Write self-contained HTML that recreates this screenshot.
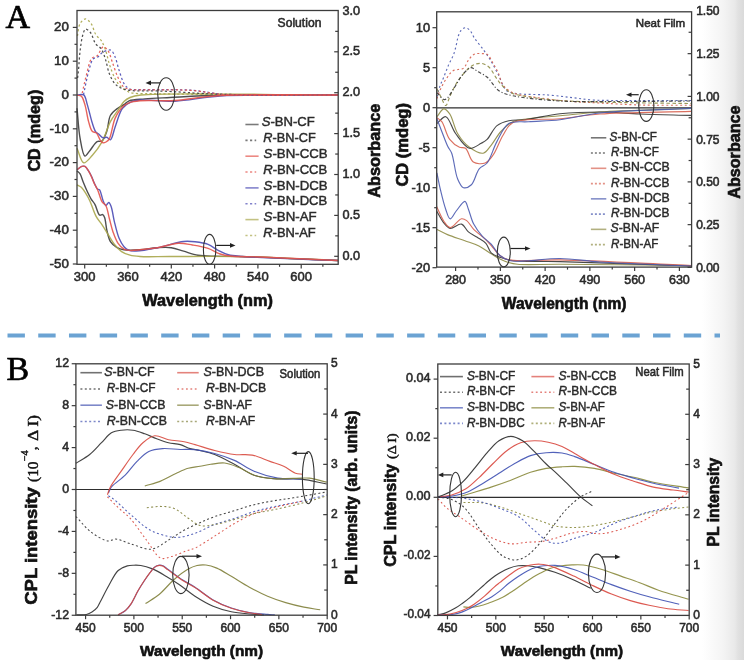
<!DOCTYPE html><html><head><meta charset="utf-8"><style>html,body{margin:0;padding:0;background:#fff;}body{width:744px;height:660px;overflow:hidden;position:relative;font-family:"Liberation Sans",sans-serif;}svg{position:absolute;left:0;top:0;filter:blur(0.3px);}</style></head><body>
<svg width="744" height="660" viewBox="0 0 744 660" font-family="Liberation Sans, sans-serif">
<defs><linearGradient id="edge" x1="0" y1="0" x2="1" y2="0"><stop offset="0" stop-color="#ffffff"/><stop offset="0.5" stop-color="#f4f4f4"/><stop offset="0.78" stop-color="#e9e9e9"/><stop offset="0.86" stop-color="#e1e1e1"/><stop offset="1" stop-color="#dadada"/></linearGradient></defs>
<rect x="0" y="0" width="744" height="660" fill="#fff"/>
<rect x="702" y="0" width="42" height="660" fill="url(#edge)"/>
<text x="5.5" y="28" font-size="34" font-family="Liberation Serif" fill="#000" stroke="#000" stroke-width="0.7">A</text>
<text x="6.5" y="380.3" font-size="34" font-family="Liberation Serif" fill="#000" stroke="#000" stroke-width="0.7">B</text>
<line x1="7.5" y1="335.6" x2="720" y2="335.6" stroke="#6ba3d3" stroke-width="4" stroke-dasharray="17.4 13.34"/>
<path d="M77 170.9 C78.03 171.9 79.2 172.53 80.1 173.9 C81.36 175.81 82.03 179.13 83.1 181.8 C84.22 184.59 85.4 187.49 86.7 190.3 C88.03 193.16 89.51 196.32 91 198.8 C92.26 200.88 93.64 202.08 94.9 204.3 C96.57 207.25 97.85 214.24 99.7 215.2 C100.64 215.69 101.9 214.26 102.7 214.6 C103.56 214.97 104.04 216.17 104.6 217.6 C105.69 220.41 105.94 226.8 107 231 C107.98 234.86 108.75 239.06 110.6 241.9 C112.17 244.3 114.42 246.08 116.7 247.4 C118.9 248.68 121.05 249.33 124 249.8 C128.26 250.48 134.56 250.13 140 249.8 C145.69 249.46 151.92 248.03 157.4 247.7 C162.28 247.41 166.85 247.08 171.3 247.7 C175.57 248.3 179.34 250 183.6 251.2 C188.21 252.5 192.95 254.35 198 255.2 C203.39 256.11 208.79 256.07 215 256.3 C222.53 256.57 228.93 256.23 240 256.5 C261.93 257.04 305.33 259.17 338 260.5" fill="none" stroke="#3c3c3c" stroke-width="1.4" stroke-linejoin="round" stroke-opacity="0.9"/>
<path d="M77 184.8 C78.43 185.63 79.95 186.08 81.3 187.3 C83.03 188.86 84.65 191.59 86.1 193.9 C87.56 196.22 88.64 198.28 90 201.2 C91.91 205.31 93.8 212.17 96.1 216.4 C97.93 219.77 100.13 221.95 102.1 224.9 C104.17 228 106.17 231.37 108.2 234.6 C110.23 237.83 111.99 241.41 114.3 244.3 C116.49 247.04 118.89 249.76 121.6 251.6 C124.15 253.33 127.02 254.38 130 255.2 C133.13 256.06 135.76 256.23 140 256.5 C147.31 256.97 157.91 256.49 170 256.5 C188.46 256.51 214.71 256.08 240 256.6 C269.93 257.22 305.33 259.2 338 260.5" fill="none" stroke="#a8a64a" stroke-width="1.4" stroke-linejoin="round" stroke-opacity="0.9"/>
<path d="M77 108.2 C78.03 118.3 78.48 129.82 80.1 138.5 C81.35 145.22 82.7 155.57 84.9 156.1 C86.29 156.43 88.04 152.76 89.8 150.7 C92.03 148.09 94.64 142.98 97.1 141.6 C98.69 140.71 100.5 141.98 101.9 141 C103.99 139.53 105.46 135.02 106.8 131.3 C108.44 126.76 108.17 119.53 110.4 115.5 C112.18 112.28 115.23 110.09 117.7 108.2 C119.77 106.62 122.05 105.88 124 104.6 C125.83 103.4 126.77 101.73 129.1 100.8 C132.77 99.33 138.94 99.42 144.8 98.9 C152.2 98.25 160.17 97.99 170 97.5 C183.84 96.81 199.8 95.77 220 95.3 C251.01 94.58 298.67 95.1 338 95" fill="none" stroke="#3c3c3c" stroke-width="1.4" stroke-linejoin="round" stroke-opacity="0.9"/>
<path d="M77 148.3 C79.23 153.13 80.84 162.18 83.7 162.8 C86.09 163.32 89.44 158.49 92.2 155.5 C95.54 151.88 99.04 147.31 101.9 142.2 C105.23 136.25 107.38 127.28 110.4 121.6 C112.72 117.23 115.34 114.08 117.7 110.6 C119.86 107.41 121.69 103.77 124 101.5 C125.86 99.67 127.59 98.54 130 97.5 C133 96.21 134.96 95.67 140.9 95 C165.86 92.17 272.3 95 338 95" fill="none" stroke="#a8a64a" stroke-width="1.4" stroke-linejoin="round" stroke-opacity="0.9"/>
<path d="M77.4 35.9 C78.3 31.8 78.34 26.54 80.1 23.6 C81.44 21.37 83.77 18.9 85.6 18.9 C87.43 18.9 89.54 21.47 91.1 23.6 C93.11 26.34 93.88 31.6 95.8 34.6 C97.39 37.09 99.74 38.34 101.3 40.7 C103 43.28 104.16 46.19 105.4 49.6 C106.96 53.9 107.89 59.77 109.5 64.6 C111.07 69.29 112.86 74.33 114.9 78.2 C116.57 81.38 118.12 84.12 120.4 86.4 C122.68 88.68 126.06 90.78 128.6 91.9 C130.51 92.74 131.5 92.87 134 93.2 C139.4 93.9 149.55 93.62 160 93.8 C175.88 94.08 196.65 94.31 220 94.5 C252.74 94.76 298.67 94.83 338 95" fill="none" stroke="#a8a64a" stroke-width="1.25" stroke-dasharray="2.2 2.4" stroke-linejoin="round" stroke-opacity="0.9"/>
<path d="M77.6 78 C77.9 75.33 78.18 73.24 78.5 70 C78.99 65 79.32 57 80.1 50.9 C80.82 45.24 81.63 38.53 82.9 34.6 C83.67 32.21 84.33 29.42 85.6 29.1 C86.84 28.78 88.95 30.77 90.4 32.5 C92.53 35.06 93.64 41.23 95.8 44.1 C97.43 46.27 99.79 46.77 101.3 48.9 C103.15 51.51 104.13 55.33 105.4 59.1 C106.91 63.58 107.71 69.75 109.5 74.1 C111 77.76 112.81 81.32 114.9 83.7 C116.55 85.58 118.13 86.72 120.4 87.8 C123.31 89.18 126.76 89.91 131.3 90.5 C138.55 91.45 148.69 90.6 160 91 C176.36 91.58 196.64 93.5 220 94.2 C252.74 95.18 298.67 94.73 338 95" fill="none" stroke="#3c3c3c" stroke-width="1.25" stroke-dasharray="2.2 2.4" stroke-linejoin="round" stroke-opacity="0.9"/>
<path d="M77 169.7 C78.63 168.6 80.4 166.86 81.9 166.4 C82.97 166.07 83.96 165.95 84.9 166.4 C86.21 167.03 87.41 169.27 88.5 170.9 C89.65 172.62 90.63 174.49 91.6 176.5 C92.67 178.72 93.54 181.49 94.6 183.7 C95.55 185.68 96.52 188.35 97.6 189.2 C98.21 189.68 98.9 189.14 99.5 189.7 C100.98 191.1 102.01 198.34 103.3 201.2 C104.12 203.03 104.84 205.37 105.8 205.5 C106.69 205.62 107.92 202.38 108.8 202.5 C109.74 202.63 110.48 204.8 111.2 206.7 C112.47 210.03 113.06 216.27 114.3 221.3 C115.65 226.77 117.15 233.72 119.1 238.3 C120.54 241.7 122.15 244.59 124 246.7 C125.46 248.36 126.91 249.67 128.8 250.4 C130.88 251.21 133.04 251.11 136.1 251 C141.35 250.81 149.96 249.15 157.4 247.7 C165.71 246.08 176.62 242.22 183.6 241.5 C188.14 241.03 191.09 241.36 195 241.8 C199.23 242.27 204.13 242.88 208.1 244.4 C211.82 245.83 214.78 248.65 218.2 250.4 C221.51 252.1 224.57 253.79 228.3 254.8 C232.53 255.95 235.59 255.95 242.4 256.5 C260.07 257.93 306.13 259.17 338 260.5" fill="none" stroke="#4a4ab4" stroke-width="1.4" stroke-linejoin="round" stroke-opacity="0.9"/>
<path d="M77 95 C79.23 94.97 82.03 93.76 83.7 94.9 C85.77 96.32 86.1 100.83 87.3 104.6 C88.93 109.69 90.55 117.81 92.2 122.8 C93.39 126.39 94.42 130.12 95.8 131.9 C96.58 132.9 97.35 132.95 98.3 133.7 C99.66 134.78 101.5 137.44 103.1 137.9 C104.33 138.25 105.63 137.03 106.8 137.3 C108.07 137.59 109.31 140.15 110.4 139.8 C112.38 139.17 113.48 131.2 115.3 126.4 C117.44 120.78 119.25 112.44 122.5 108.2 C124.9 105.06 128.05 103.16 131.1 101.8 C133.91 100.55 136.03 100.33 140 100 C147.8 99.35 162.62 101.7 175 101.2 C189.08 100.63 201.42 97.15 220 96 C250 94.15 298.67 95.33 338 95" fill="none" stroke="#4a4ab4" stroke-width="1.4" stroke-linejoin="round" stroke-opacity="0.9"/>
<path d="M83.5 94.6 C85.33 86.4 87.06 76.5 89 70 C90.32 65.58 91.06 61.35 93.1 59.1 C94.58 57.47 97 57.56 98.6 56.4 C100.15 55.28 100.85 53.31 102.6 52.3 C104.72 51.07 108.72 49.4 110.8 50.2 C112.74 50.95 113.69 53.82 114.9 56.4 C116.57 59.96 117.44 65.43 119 70 C120.62 74.76 122.19 81.09 124.5 84.4 C126.08 86.66 127.63 88.19 129.9 89.1 C132.6 90.19 135.74 89.49 140 89.6 C147.34 89.78 160.77 89.45 170 89.6 C177.9 89.73 185.05 89.75 192 90.3 C198.31 90.8 204.18 91.83 210 92.6 C215.49 93.33 218.23 94.26 226 94.8 C246.45 96.22 300.67 94.93 338 95" fill="none" stroke="#4a4ab4" stroke-width="1.25" stroke-dasharray="2.2 2.4" stroke-linejoin="round" stroke-opacity="0.9"/>
<path d="M77 169.7 C78.63 168.6 80.4 166.86 81.9 166.4 C82.97 166.07 83.96 165.95 84.9 166.4 C86.21 167.03 87.42 169.22 88.5 170.9 C89.68 172.73 90.61 174.86 91.6 177 C92.65 179.28 93.54 181.99 94.6 184.2 C95.55 186.18 96.58 187.47 97.6 189.7 C99.06 192.91 100.33 199.05 102.1 201.8 C103.23 203.55 104.75 203.7 105.8 205.5 C107.5 208.43 108.19 214.36 109.4 218.8 C110.62 223.26 111.61 228.01 113.1 232.2 C114.48 236.07 115.87 240.14 117.9 243.1 C119.62 245.62 121.78 248.01 124 249.2 C125.87 250.2 127.73 250.24 130 250.4 C132.9 250.6 136.21 250.14 140 249.8 C145.01 249.35 151.36 248.7 157.4 247.7 C164.07 246.6 172.01 243.57 178.3 243.3 C183.41 243.08 187.51 244.2 192.3 245 C197.43 245.86 203.27 246.78 208.1 248.4 C212.49 249.87 216.27 252.72 220.2 254 C223.65 255.12 226.02 255.51 230.3 256 C237.57 256.84 247.76 256.52 260 257 C279.84 257.78 312 259.33 338 260.5" fill="none" stroke="#e4524a" stroke-width="1.4" stroke-linejoin="round" stroke-opacity="0.9"/>
<path d="M77 95.3 C78.43 95.57 80.11 95.15 81.3 96.1 C83.02 97.48 83.83 101.22 84.9 104.6 C86.37 109.24 87.18 116.77 88.6 121.6 C89.69 125.33 90.44 129.47 92.2 131.3 C93.38 132.53 95.24 131.95 96.5 133.1 C98.24 134.69 99.31 139.38 100.7 141 C101.5 141.94 102.22 142.63 103.1 142.8 C103.98 142.97 105.07 142.5 106 142 C107.11 141.4 108.19 140.8 109.2 139.2 C111.51 135.56 112.48 123.81 115.3 117.9 C117.61 113.07 121.02 108.33 123.8 105.8 C125.59 104.18 126.94 103.58 129.1 102.8 C132.02 101.74 135.31 101.25 140 100.8 C148.33 100.01 162.62 101.24 175 100.5 C189.08 99.66 201.42 96.57 220 95.5 C250 93.77 298.67 95.17 338 95" fill="none" stroke="#e4524a" stroke-width="1.4" stroke-linejoin="round" stroke-opacity="0.9"/>
<path d="M82.2 93.2 C83.57 87.3 84.71 81.32 86.3 75.5 C87.88 69.72 89.06 61.47 91.7 58.4 C93.25 56.6 95.5 57.17 97.2 55.7 C99.46 53.74 101.23 47.07 103.3 46.8 C104.88 46.59 106.75 48.98 108.1 50.9 C109.93 53.51 110.74 57.87 112.2 61.8 C113.91 66.4 115.68 72.43 117.7 76.8 C119.37 80.43 120.92 84.34 123.1 86.4 C124.72 87.94 126.73 88.54 128.6 89.1 C130.37 89.63 131.4 89.63 134 89.8 C140.69 90.23 159.47 89.63 170 89.8 C178.23 89.93 185.05 89.95 192 90.5 C198.31 91 204.18 92.06 210 92.8 C215.49 93.49 218.24 94.31 226 94.8 C246.46 96.09 300.67 94.93 338 95" fill="none" stroke="#e4524a" stroke-width="1.25" stroke-dasharray="2.2 2.4" stroke-linejoin="round" stroke-opacity="0.9"/>
<ellipse cx="166.2" cy="94" rx="8.5" ry="16.3" fill="none" stroke="#333" stroke-width="1.1"/>
<line x1="160.7" y1="82.9" x2="149.35" y2="82.9" stroke="#222" stroke-width="1.2"/>
<path d="M145.5 82.9 L151 80.6 L151 85.2 Z" fill="#222"/>
<ellipse cx="209.6" cy="249.4" rx="6.2" ry="15" fill="none" stroke="#333" stroke-width="1.1"/>
<line x1="216.2" y1="245.4" x2="231.65" y2="245.4" stroke="#222" stroke-width="1.2"/>
<path d="M235.5 245.4 L230 243.1 L230 247.7 Z" fill="#222"/>
<rect x="77" y="10.5" width="261.2" height="253.8" fill="none" stroke="#3c3c3c" stroke-width="1.3"/>
<line x1="72.8" y1="27.4" x2="77" y2="27.4" stroke="#3c3c3c" stroke-width="1.2"/>
<text x="68.8" y="31.1" font-size="13.3" fill="#2a2a2a" text-anchor="end" stroke="#2a2a2a" stroke-width="0.55">20</text>
<line x1="72.8" y1="61.2" x2="77" y2="61.2" stroke="#3c3c3c" stroke-width="1.2"/>
<text x="68.8" y="64.9" font-size="13.3" fill="#2a2a2a" text-anchor="end" stroke="#2a2a2a" stroke-width="0.55">10</text>
<line x1="72.8" y1="95" x2="77" y2="95" stroke="#3c3c3c" stroke-width="1.2"/>
<text x="68.8" y="98.7" font-size="13.3" fill="#2a2a2a" text-anchor="end" stroke="#2a2a2a" stroke-width="0.55">0</text>
<line x1="72.8" y1="128.8" x2="77" y2="128.8" stroke="#3c3c3c" stroke-width="1.2"/>
<text x="68.8" y="132.5" font-size="13.3" fill="#2a2a2a" text-anchor="end" stroke="#2a2a2a" stroke-width="0.55">-10</text>
<line x1="72.8" y1="162.6" x2="77" y2="162.6" stroke="#3c3c3c" stroke-width="1.2"/>
<text x="68.8" y="166.3" font-size="13.3" fill="#2a2a2a" text-anchor="end" stroke="#2a2a2a" stroke-width="0.55">-20</text>
<line x1="72.8" y1="196.4" x2="77" y2="196.4" stroke="#3c3c3c" stroke-width="1.2"/>
<text x="68.8" y="200.1" font-size="13.3" fill="#2a2a2a" text-anchor="end" stroke="#2a2a2a" stroke-width="0.55">-30</text>
<line x1="72.8" y1="230.2" x2="77" y2="230.2" stroke="#3c3c3c" stroke-width="1.2"/>
<text x="68.8" y="233.9" font-size="13.3" fill="#2a2a2a" text-anchor="end" stroke="#2a2a2a" stroke-width="0.55">-40</text>
<line x1="72.8" y1="264" x2="77" y2="264" stroke="#3c3c3c" stroke-width="1.2"/>
<text x="68.8" y="267.7" font-size="13.3" fill="#2a2a2a" text-anchor="end" stroke="#2a2a2a" stroke-width="0.55">-50</text>
<line x1="74.5" y1="44.3" x2="77" y2="44.3" stroke="#3c3c3c" stroke-width="1.2"/>
<line x1="74.5" y1="78.1" x2="77" y2="78.1" stroke="#3c3c3c" stroke-width="1.2"/>
<line x1="74.5" y1="111.9" x2="77" y2="111.9" stroke="#3c3c3c" stroke-width="1.2"/>
<line x1="74.5" y1="145.7" x2="77" y2="145.7" stroke="#3c3c3c" stroke-width="1.2"/>
<line x1="74.5" y1="179.5" x2="77" y2="179.5" stroke="#3c3c3c" stroke-width="1.2"/>
<line x1="74.5" y1="213.3" x2="77" y2="213.3" stroke="#3c3c3c" stroke-width="1.2"/>
<line x1="74.5" y1="247.1" x2="77" y2="247.1" stroke="#3c3c3c" stroke-width="1.2"/>
<line x1="84.7" y1="264.3" x2="84.7" y2="268.5" stroke="#3c3c3c" stroke-width="1.2"/>
<text x="84.7" y="281.2" font-size="13" fill="#2a2a2a" text-anchor="middle" stroke="#2a2a2a" stroke-width="0.55">300</text>
<line x1="128" y1="264.3" x2="128" y2="268.5" stroke="#3c3c3c" stroke-width="1.2"/>
<text x="128" y="281.2" font-size="13" fill="#2a2a2a" text-anchor="middle" stroke="#2a2a2a" stroke-width="0.55">360</text>
<line x1="171.3" y1="264.3" x2="171.3" y2="268.5" stroke="#3c3c3c" stroke-width="1.2"/>
<text x="171.3" y="281.2" font-size="13" fill="#2a2a2a" text-anchor="middle" stroke="#2a2a2a" stroke-width="0.55">420</text>
<line x1="214.61" y1="264.3" x2="214.61" y2="268.5" stroke="#3c3c3c" stroke-width="1.2"/>
<text x="214.61" y="281.2" font-size="13" fill="#2a2a2a" text-anchor="middle" stroke="#2a2a2a" stroke-width="0.55">480</text>
<line x1="257.91" y1="264.3" x2="257.91" y2="268.5" stroke="#3c3c3c" stroke-width="1.2"/>
<text x="257.91" y="281.2" font-size="13" fill="#2a2a2a" text-anchor="middle" stroke="#2a2a2a" stroke-width="0.55">540</text>
<line x1="301.21" y1="264.3" x2="301.21" y2="268.5" stroke="#3c3c3c" stroke-width="1.2"/>
<text x="301.21" y="281.2" font-size="13" fill="#2a2a2a" text-anchor="middle" stroke="#2a2a2a" stroke-width="0.55">600</text>
<line x1="106.35" y1="264.3" x2="106.35" y2="266.8" stroke="#3c3c3c" stroke-width="1.2"/>
<line x1="149.65" y1="264.3" x2="149.65" y2="266.8" stroke="#3c3c3c" stroke-width="1.2"/>
<line x1="192.95" y1="264.3" x2="192.95" y2="266.8" stroke="#3c3c3c" stroke-width="1.2"/>
<line x1="236.26" y1="264.3" x2="236.26" y2="266.8" stroke="#3c3c3c" stroke-width="1.2"/>
<line x1="279.56" y1="264.3" x2="279.56" y2="266.8" stroke="#3c3c3c" stroke-width="1.2"/>
<line x1="322.86" y1="264.3" x2="322.86" y2="266.8" stroke="#3c3c3c" stroke-width="1.2"/>
<line x1="334.2" y1="256.3" x2="338.2" y2="256.3" stroke="#3c3c3c" stroke-width="1.2"/>
<line x1="335.2" y1="235.85" x2="338.2" y2="235.85" stroke="#3c3c3c" stroke-width="1.2"/>
<line x1="334.2" y1="215.4" x2="338.2" y2="215.4" stroke="#3c3c3c" stroke-width="1.2"/>
<line x1="335.2" y1="194.95" x2="338.2" y2="194.95" stroke="#3c3c3c" stroke-width="1.2"/>
<line x1="334.2" y1="174.5" x2="338.2" y2="174.5" stroke="#3c3c3c" stroke-width="1.2"/>
<line x1="335.2" y1="154.05" x2="338.2" y2="154.05" stroke="#3c3c3c" stroke-width="1.2"/>
<line x1="334.2" y1="133.6" x2="338.2" y2="133.6" stroke="#3c3c3c" stroke-width="1.2"/>
<line x1="335.2" y1="113.15" x2="338.2" y2="113.15" stroke="#3c3c3c" stroke-width="1.2"/>
<line x1="334.2" y1="92.7" x2="338.2" y2="92.7" stroke="#3c3c3c" stroke-width="1.2"/>
<line x1="335.2" y1="72.25" x2="338.2" y2="72.25" stroke="#3c3c3c" stroke-width="1.2"/>
<line x1="334.2" y1="51.8" x2="338.2" y2="51.8" stroke="#3c3c3c" stroke-width="1.2"/>
<line x1="335.2" y1="31.35" x2="338.2" y2="31.35" stroke="#3c3c3c" stroke-width="1.2"/>
<text x="342.5" y="259.9" font-size="12.7" fill="#2a2a2a" stroke="#2a2a2a" stroke-width="0.55">0.0</text>
<text x="342.5" y="219" font-size="12.7" fill="#2a2a2a" stroke="#2a2a2a" stroke-width="0.55">0.5</text>
<text x="342.5" y="178.1" font-size="12.7" fill="#2a2a2a" stroke="#2a2a2a" stroke-width="0.55">1.0</text>
<text x="342.5" y="137.2" font-size="12.7" fill="#2a2a2a" stroke="#2a2a2a" stroke-width="0.55">1.5</text>
<text x="342.5" y="96.3" font-size="12.7" fill="#2a2a2a" stroke="#2a2a2a" stroke-width="0.55">2.0</text>
<text x="342.5" y="55.4" font-size="12.7" fill="#2a2a2a" stroke="#2a2a2a" stroke-width="0.55">2.5</text>
<text x="342.5" y="14.5" font-size="12.7" fill="#2a2a2a" stroke="#2a2a2a" stroke-width="0.55">3.0</text>
<text x="40" y="130.6" font-size="16.3" fill="#111" text-anchor="middle" font-weight="bold" textLength="82" lengthAdjust="spacingAndGlyphs" transform="rotate(-90 40 130.6)" stroke="#111" stroke-width="0.65">CD (mdeg)</text>
<text x="380.5" y="150.7" font-size="16" fill="#111" text-anchor="middle" font-weight="bold" textLength="94" lengthAdjust="spacingAndGlyphs" transform="rotate(-90 380.5 150.7)" stroke="#111" stroke-width="0.65">Absorbance</text>
<text x="207.6" y="306.1" font-size="16.5" fill="#111" text-anchor="middle" font-weight="bold" textLength="130.6" lengthAdjust="spacingAndGlyphs" stroke="#111" stroke-width="0.65">Wavelength (nm)</text>
<text x="277.6" y="27" font-size="12.2" fill="#2a2a2a" textLength="43.8" lengthAdjust="spacingAndGlyphs" stroke="#2a2a2a" stroke-width="0.55">Solution</text>
<g opacity="0.68">
<line x1="245.4" y1="124.5" x2="258.6" y2="124.5" stroke="#3c3c3c" stroke-width="1.6"/>
</g>
<text x="261.7" y="126.1" font-size="12.4" fill="#2a2a2a" stroke="#2a2a2a" stroke-width="0.42" textLength="53.1" lengthAdjust="spacingAndGlyphs"><tspan font-style="italic">S</tspan>-BN-CF</text>
<g opacity="0.68">
<line x1="245.4" y1="140.35" x2="256.2" y2="140.35" stroke="#3c3c3c" stroke-width="1.6" stroke-dasharray="2.2 2.4"/>
</g>
<text x="263.3" y="141.95" font-size="12.4" fill="#2a2a2a" stroke="#2a2a2a" stroke-width="0.42" textLength="52.4" lengthAdjust="spacingAndGlyphs"><tspan font-style="italic">R</tspan>-BN-CF</text>
<g opacity="0.68">
<line x1="245.4" y1="156.2" x2="258.6" y2="156.2" stroke="#e4524a" stroke-width="1.6"/>
</g>
<text x="263.6" y="157.8" font-size="12.4" fill="#2a2a2a" stroke="#2a2a2a" stroke-width="0.42" textLength="64" lengthAdjust="spacingAndGlyphs"><tspan font-style="italic">S</tspan>-BN-CCB</text>
<g opacity="0.68">
<line x1="245.4" y1="172.05" x2="256.2" y2="172.05" stroke="#e4524a" stroke-width="1.6" stroke-dasharray="2.2 2.4"/>
</g>
<text x="263.3" y="173.65" font-size="12.4" fill="#2a2a2a" stroke="#2a2a2a" stroke-width="0.42" textLength="64" lengthAdjust="spacingAndGlyphs"><tspan font-style="italic">R</tspan>-BN-CCB</text>
<g opacity="0.68">
<line x1="245.4" y1="187.9" x2="258.6" y2="187.9" stroke="#4a4ab4" stroke-width="1.6"/>
</g>
<text x="263.6" y="189.5" font-size="12.4" fill="#2a2a2a" stroke="#2a2a2a" stroke-width="0.42" textLength="64" lengthAdjust="spacingAndGlyphs"><tspan font-style="italic">S</tspan>-BN-DCB</text>
<g opacity="0.68">
<line x1="245.4" y1="203.75" x2="256.2" y2="203.75" stroke="#4a4ab4" stroke-width="1.6" stroke-dasharray="2.2 2.4"/>
</g>
<text x="263.3" y="205.35" font-size="12.4" fill="#2a2a2a" stroke="#2a2a2a" stroke-width="0.42" textLength="64" lengthAdjust="spacingAndGlyphs"><tspan font-style="italic">R</tspan>-BN-DCB</text>
<g opacity="0.68">
<line x1="245.4" y1="219.6" x2="258.6" y2="219.6" stroke="#a8a64a" stroke-width="1.6"/>
</g>
<text x="263.6" y="221.2" font-size="12.4" fill="#2a2a2a" stroke="#2a2a2a" stroke-width="0.42" textLength="53" lengthAdjust="spacingAndGlyphs"><tspan font-style="italic">S</tspan>-BN-AF</text>
<g opacity="0.68">
<line x1="245.4" y1="235.45" x2="256.2" y2="235.45" stroke="#a8a64a" stroke-width="1.6" stroke-dasharray="2.2 2.4"/>
</g>
<text x="263.3" y="237.05" font-size="12.4" fill="#2a2a2a" stroke="#2a2a2a" stroke-width="0.42" textLength="52.4" lengthAdjust="spacingAndGlyphs"><tspan font-style="italic">R</tspan>-BN-AF</text>
<path d="M436.6 229.3 C440.23 231.07 443.39 232.89 447.5 234.6 C452.57 236.71 459.42 238.72 464.9 240.7 C469.83 242.48 474.5 243.7 478.9 245.9 C483.26 248.08 487.44 251.47 491.2 253.8 C494.33 255.74 496.94 257.53 499.9 259 C502.75 260.41 505.65 261.61 508.6 262.5 C511.49 263.37 513.34 263.89 517.4 264.3 C526.25 265.2 541.9 264.22 560 264.3 C591.8 264.45 647.67 265.1 691.5 265.5" fill="none" stroke="#8e8c45" stroke-width="1.15" stroke-linejoin="round" stroke-opacity="0.9"/>
<path d="M436.6 211 C439.07 215.07 441.39 220.14 444 223.2 C445.95 225.5 447.6 227.96 450.1 228.4 C453.19 228.94 458.38 223.33 461.5 224.1 C464.38 224.81 465.77 229.71 468.4 231.9 C471.01 234.07 474.31 235.32 477.2 237.2 C480.14 239.11 483.58 240.71 485.9 243.3 C488.26 245.93 488.76 250.55 491.2 252.9 C493.5 255.12 496.58 256.06 499.9 257.3 C503.94 258.81 507.82 260 513.9 260.8 C524.76 262.23 540.7 261.11 560 261.6 C592.61 262.43 647.67 264.53 691.5 266" fill="none" stroke="#363636" stroke-width="1.15" stroke-linejoin="round" stroke-opacity="0.9"/>
<path d="M436.6 206.6 C439.07 211.57 441.33 217.78 444 221.5 C445.93 224.18 447.67 227.44 450.1 227.6 C453.24 227.8 458.32 219.32 461.5 218.8 C463.47 218.48 465.01 219.41 466.7 220.6 C469.11 222.3 470.89 226.39 473.7 229.3 C477.08 232.79 482.49 236.44 485.9 239.8 C488.66 242.52 490.56 245.08 492.9 247.7 C495.23 250.31 497.22 253.45 499.9 255.5 C502.48 257.48 504.32 258.88 508.6 259.9 C518.44 262.25 538.92 259.45 560 259.9 C593.73 260.62 647.67 263.63 691.5 265.5" fill="none" stroke="#d65f4e" stroke-width="1.15" stroke-linejoin="round" stroke-opacity="0.9"/>
<path d="M436.9 172.9 C438.1 178.6 439.09 184.16 440.5 190 C442 196.24 443.8 203.96 445.7 209.2 C447.08 213.02 448.31 218.59 450.1 218.8 C451.83 219 453.93 213.69 456.2 211 C458.79 207.92 462.81 201.07 464.9 201.4 C466.6 201.67 467.18 206.15 468.4 209.2 C470.06 213.34 471.32 219.53 473.7 224.1 C476.02 228.55 479.29 232.82 482.4 236.3 C485.17 239.39 488.41 241.19 491.2 244.2 C494.27 247.51 496.5 252.69 499.9 255.5 C502.99 258.05 506.42 259.85 510.4 260.8 C515 261.89 519.88 261.01 526.1 260.8 C535.26 260.49 548.24 258.39 560 258.5 C572.79 258.62 583.93 260.95 600 262 C624.27 263.59 661 264.67 691.5 266" fill="none" stroke="#4b5bb0" stroke-width="1.15" stroke-linejoin="round" stroke-opacity="0.9"/>
<line x1="436.7" y1="107.8" x2="691.6" y2="107.8" stroke="#2e2e2e" stroke-width="1.3"/>
<path d="M436.9 116.7 C439.2 114.1 441.5 109.08 443.8 108.9 C445.77 108.75 447.88 111.3 449.7 113.8 C452.73 117.96 454.13 127.76 457.6 133.5 C460.81 138.81 464.88 143.98 469.4 147.3 C473.51 150.32 479.43 153.93 483.2 153.2 C486.45 152.57 488.46 148.43 491.1 145.3 C494.35 141.45 497.19 135.5 500.9 131.5 C504.43 127.69 508.17 123.84 512.7 121.7 C517.34 119.51 522.31 119.57 528.5 118.7 C537.18 117.48 548.87 116.84 560 115.8 C572.54 114.63 583.95 113.07 600 112 C624.17 110.39 660.67 109.67 691 108.5" fill="none" stroke="#8e8c45" stroke-width="1.15" stroke-linejoin="round" stroke-opacity="0.9"/>
<path d="M436.9 123.6 C439.87 121.3 443.04 116.16 445.8 116.7 C449.43 117.4 451.72 128.28 455.6 133.5 C459.56 138.83 464.61 147.28 469.4 148.3 C473.21 149.11 478 145.01 481.2 143.3 C483.57 142.03 485.07 141.35 487.1 139.4 C490.25 136.37 493.04 128.75 497 125.6 C500.44 122.87 504.5 121.7 508.8 120.7 C513.58 119.59 518.24 120.42 524.5 119.7 C533.97 118.61 547.77 115.09 560 113.8 C572.9 112.44 586.67 111.97 600 112 C613.33 112.03 625.85 113.45 640 114 C655.97 114.62 674 114.93 691 115.4" fill="none" stroke="#363636" stroke-width="1.15" stroke-linejoin="round" stroke-opacity="0.9"/>
<path d="M436.9 117.7 C438.53 119.03 440.21 119.63 441.8 121.7 C444.58 125.33 446.28 134.96 449.7 139.4 C452.46 142.98 456.46 145.94 459.5 147.3 C461.61 148.25 463.65 147.01 465.5 148.3 C468.48 150.38 469.65 159.67 473.3 162 C476.47 164.03 481.88 164.22 485.2 163 C488.39 161.83 490.51 158.65 493 155.2 C496.52 150.33 499.32 141.22 502.9 135.5 C505.96 130.61 507.25 125.68 512.7 122.7 C522.05 117.58 544.91 120.22 560 118.7 C573.9 117.3 583.93 115.17 600 114 C624.16 112.24 660.67 112.27 691 111.4" fill="none" stroke="#d65f4e" stroke-width="1.15" stroke-linejoin="round" stroke-opacity="0.9"/>
<path d="M436.9 118.7 C438.53 122.97 440.07 127.08 441.8 131.5 C443.66 136.26 445.78 142.35 447.7 146.3 C449.06 149.09 450.46 150.05 451.7 153.2 C453.96 158.92 454.95 172.64 457.6 178.8 C459.29 182.73 461.01 186.9 463.5 187.7 C465.72 188.41 469.11 186.78 471.4 184.7 C474.71 181.69 476.07 172.66 479.2 168.9 C481.54 166.09 484.67 166.01 487.1 163 C490.88 158.32 493.26 148.12 497 141.4 C500.54 135.03 503.4 126.85 508.8 123.6 C514 120.48 521.16 122.29 528.5 121.7 C537.77 120.96 548.91 120.98 560 119.7 C572.57 118.25 583.9 114.75 600 113 C624.13 110.38 660.67 109.93 691 108.4" fill="none" stroke="#4b5bb0" stroke-width="1.15" stroke-linejoin="round" stroke-opacity="0.9"/>
<path d="M436.9 96.7 C437.93 93.13 438.8 89.38 440 86 C441.12 82.84 442.45 80.28 443.8 77 C445.42 73.07 447.25 67.97 449 64 C450.52 60.56 452.36 57.8 453.6 54.5 C454.86 51.14 455.69 47.23 456.5 44 C457.18 41.27 457.4 38.73 458.2 36.4 C458.94 34.26 459.68 31.98 461 30.5 C462.19 29.17 464 27.7 465.5 27.7 C467 27.7 468.65 29.11 470 30.5 C471.75 32.3 472.63 35.43 474.5 38.2 C476.92 41.79 480.79 46.1 483.6 50 C486.23 53.66 488.56 57 490.9 60.9 C493.44 65.13 495.68 69.76 498.2 74.5 C500.96 79.68 502.84 87.71 506.8 90.8 C510.01 93.31 513.74 93 518.6 93.7 C526.2 94.79 538.81 94.28 548.2 95 C556.76 95.66 564.92 96.83 572.7 97.7 C579.79 98.49 585.74 99.52 593 100 C601.35 100.55 608.87 100.4 620 100.5 C638.05 100.67 667.33 100.5 691 100.5" fill="none" stroke="#4b5bb0" stroke-width="1.15" stroke-dasharray="2 2.6" stroke-linejoin="round" stroke-opacity="0.9"/>
<path d="M436.9 98.6 C438.27 95.07 439.32 91.47 441 88 C442.76 84.37 445.15 80.33 447.3 77.3 C449.07 74.81 450.67 72.17 452.7 70.9 C454.37 69.85 456.37 69.95 458.2 69.5 C460.01 69.05 462 69.37 463.6 68.2 C465.81 66.58 467.09 61.57 469.1 59.1 C470.78 57.04 472.38 55.02 474.5 54.1 C476.61 53.19 479.54 53.49 481.8 53.6 C483.77 53.69 485.67 53.44 487.3 54.5 C489.46 55.9 490.95 59.79 492.7 62.7 C494.59 65.83 496.54 69.15 498.2 72.7 C499.97 76.49 500.45 81.45 502.9 84.8 C505.31 88.1 508.05 90.58 512.7 92.7 C520.57 96.28 537.52 97.49 548.2 99 C556.9 100.23 563.74 100.85 572 101.5 C580.95 102.21 589.84 102.47 600 103 C612.15 103.63 625.85 104.6 640 105 C655.96 105.45 674 105.2 691 105.3" fill="none" stroke="#d65f4e" stroke-width="1.15" stroke-dasharray="2 2.6" stroke-linejoin="round" stroke-opacity="0.9"/>
<path d="M436.9 88.8 C438.27 91.53 439.54 94.26 441 97 C442.5 99.83 444.32 105.57 445.8 105.5 C447.33 105.43 448.46 99.28 450 96 C451.69 92.4 453.75 87.99 455.6 84.8 C457.08 82.26 458.12 80.59 460 78.2 C462.57 74.93 466.9 69.73 470 67.3 C472.11 65.64 473.93 64.62 476 64 C477.94 63.41 479.98 63.08 482 63.5 C484.34 63.98 486.94 65.34 489.1 67.3 C491.86 69.8 494.21 75.17 496.4 78.2 C498.04 80.47 498.99 81.97 500.9 84 C503.46 86.72 506.63 90.58 510.8 92.7 C515.9 95.29 522.85 95.79 530 97 C538.85 98.5 548.26 99.62 560 100.5 C576.55 101.74 599.16 102.01 620 102.5 C642.67 103.04 667.33 103.17 691 103.5" fill="none" stroke="#8e8c45" stroke-width="1.15" stroke-dasharray="3.5 2.5" stroke-linejoin="round" stroke-opacity="0.9"/>
<path d="M436.9 92.7 C439.53 95 442.21 99.82 444.8 99.6 C447.79 99.35 451.01 92.48 453.6 88.8 C456.04 85.33 457.9 81.2 460 78.2 C461.69 75.79 463.14 73.78 465 72 C466.79 70.3 468.79 67.82 470.9 67.7 C473.16 67.57 475.65 70.31 478.2 71.8 C481.08 73.48 484.29 74.75 487.3 77.3 C491.2 80.6 494.4 87.72 498.9 90.8 C502.98 93.6 506.62 94.3 512.7 95.7 C523.66 98.22 543.27 100 560 101 C578.78 102.13 599.16 101.49 620 101.5 C642.67 101.51 667.33 101.17 691 101" fill="none" stroke="#363636" stroke-width="1.15" stroke-dasharray="3.5 2 1.2 2" stroke-linejoin="round" stroke-opacity="0.9"/>
<ellipse cx="503.8" cy="252" rx="6.5" ry="14.9" fill="none" stroke="#333" stroke-width="1.1"/>
<line x1="510.4" y1="248.5" x2="526.65" y2="248.5" stroke="#222" stroke-width="1.2"/>
<path d="M530.5 248.5 L525 246.2 L525 250.8 Z" fill="#222"/>
<ellipse cx="646.3" cy="105.6" rx="7.6" ry="15.8" fill="none" stroke="#333" stroke-width="1.1"/>
<line x1="638.7" y1="94.7" x2="629.85" y2="94.7" stroke="#222" stroke-width="1.2"/>
<path d="M626 94.7 L631.5 92.4 L631.5 97 Z" fill="#222"/>
<rect x="436.7" y="11.8" width="254.9" height="255.3" fill="none" stroke="#3c3c3c" stroke-width="1.3"/>
<line x1="432.5" y1="27.7" x2="436.7" y2="27.7" stroke="#3c3c3c" stroke-width="1.2"/>
<text x="430" y="31.9" font-size="12.8" fill="#2a2a2a" text-anchor="end" stroke="#2a2a2a" stroke-width="0.55">10</text>
<line x1="432.5" y1="67.7" x2="436.7" y2="67.7" stroke="#3c3c3c" stroke-width="1.2"/>
<text x="430" y="71.9" font-size="12.8" fill="#2a2a2a" text-anchor="end" stroke="#2a2a2a" stroke-width="0.55">5</text>
<line x1="432.5" y1="107.7" x2="436.7" y2="107.7" stroke="#3c3c3c" stroke-width="1.2"/>
<text x="430" y="111.9" font-size="12.8" fill="#2a2a2a" text-anchor="end" stroke="#2a2a2a" stroke-width="0.55">0</text>
<line x1="432.5" y1="147.7" x2="436.7" y2="147.7" stroke="#3c3c3c" stroke-width="1.2"/>
<text x="430" y="151.9" font-size="12.8" fill="#2a2a2a" text-anchor="end" stroke="#2a2a2a" stroke-width="0.55">-5</text>
<line x1="432.5" y1="187.7" x2="436.7" y2="187.7" stroke="#3c3c3c" stroke-width="1.2"/>
<text x="430" y="191.9" font-size="12.8" fill="#2a2a2a" text-anchor="end" stroke="#2a2a2a" stroke-width="0.55">-10</text>
<line x1="432.5" y1="227.7" x2="436.7" y2="227.7" stroke="#3c3c3c" stroke-width="1.2"/>
<text x="430" y="231.9" font-size="12.8" fill="#2a2a2a" text-anchor="end" stroke="#2a2a2a" stroke-width="0.55">-15</text>
<line x1="432.5" y1="267.7" x2="436.7" y2="267.7" stroke="#3c3c3c" stroke-width="1.2"/>
<text x="430" y="271.9" font-size="12.8" fill="#2a2a2a" text-anchor="end" stroke="#2a2a2a" stroke-width="0.55">-20</text>
<line x1="434.2" y1="47.7" x2="436.7" y2="47.7" stroke="#3c3c3c" stroke-width="1.2"/>
<line x1="434.2" y1="87.7" x2="436.7" y2="87.7" stroke="#3c3c3c" stroke-width="1.2"/>
<line x1="434.2" y1="127.7" x2="436.7" y2="127.7" stroke="#3c3c3c" stroke-width="1.2"/>
<line x1="434.2" y1="167.7" x2="436.7" y2="167.7" stroke="#3c3c3c" stroke-width="1.2"/>
<line x1="434.2" y1="207.7" x2="436.7" y2="207.7" stroke="#3c3c3c" stroke-width="1.2"/>
<line x1="434.2" y1="247.7" x2="436.7" y2="247.7" stroke="#3c3c3c" stroke-width="1.2"/>
<line x1="455.6" y1="267.1" x2="455.6" y2="271.1" stroke="#3c3c3c" stroke-width="1.2"/>
<text x="455.6" y="283.6" font-size="12.5" fill="#2a2a2a" text-anchor="middle" stroke="#2a2a2a" stroke-width="0.55">280</text>
<line x1="500.36" y1="267.1" x2="500.36" y2="271.1" stroke="#3c3c3c" stroke-width="1.2"/>
<text x="500.36" y="283.6" font-size="12.5" fill="#2a2a2a" text-anchor="middle" stroke="#2a2a2a" stroke-width="0.55">350</text>
<line x1="545.12" y1="267.1" x2="545.12" y2="271.1" stroke="#3c3c3c" stroke-width="1.2"/>
<text x="545.12" y="283.6" font-size="12.5" fill="#2a2a2a" text-anchor="middle" stroke="#2a2a2a" stroke-width="0.55">420</text>
<line x1="589.87" y1="267.1" x2="589.87" y2="271.1" stroke="#3c3c3c" stroke-width="1.2"/>
<text x="589.87" y="283.6" font-size="12.5" fill="#2a2a2a" text-anchor="middle" stroke="#2a2a2a" stroke-width="0.55">490</text>
<line x1="634.63" y1="267.1" x2="634.63" y2="271.1" stroke="#3c3c3c" stroke-width="1.2"/>
<text x="634.63" y="283.6" font-size="12.5" fill="#2a2a2a" text-anchor="middle" stroke="#2a2a2a" stroke-width="0.55">560</text>
<line x1="679.39" y1="267.1" x2="679.39" y2="271.1" stroke="#3c3c3c" stroke-width="1.2"/>
<text x="679.39" y="283.6" font-size="12.5" fill="#2a2a2a" text-anchor="middle" stroke="#2a2a2a" stroke-width="0.55">630</text>
<line x1="477.98" y1="267.1" x2="477.98" y2="269.6" stroke="#3c3c3c" stroke-width="1.2"/>
<line x1="522.74" y1="267.1" x2="522.74" y2="269.6" stroke="#3c3c3c" stroke-width="1.2"/>
<line x1="567.5" y1="267.1" x2="567.5" y2="269.6" stroke="#3c3c3c" stroke-width="1.2"/>
<line x1="612.25" y1="267.1" x2="612.25" y2="269.6" stroke="#3c3c3c" stroke-width="1.2"/>
<line x1="657.01" y1="267.1" x2="657.01" y2="269.6" stroke="#3c3c3c" stroke-width="1.2"/>
<line x1="687.6" y1="267.4" x2="691.6" y2="267.4" stroke="#3c3c3c" stroke-width="1.2"/>
<line x1="688.6" y1="246.02" x2="691.6" y2="246.02" stroke="#3c3c3c" stroke-width="1.2"/>
<line x1="687.6" y1="224.65" x2="691.6" y2="224.65" stroke="#3c3c3c" stroke-width="1.2"/>
<line x1="688.6" y1="203.27" x2="691.6" y2="203.27" stroke="#3c3c3c" stroke-width="1.2"/>
<line x1="687.6" y1="181.9" x2="691.6" y2="181.9" stroke="#3c3c3c" stroke-width="1.2"/>
<line x1="688.6" y1="160.52" x2="691.6" y2="160.52" stroke="#3c3c3c" stroke-width="1.2"/>
<line x1="687.6" y1="139.15" x2="691.6" y2="139.15" stroke="#3c3c3c" stroke-width="1.2"/>
<line x1="688.6" y1="117.77" x2="691.6" y2="117.77" stroke="#3c3c3c" stroke-width="1.2"/>
<line x1="687.6" y1="96.4" x2="691.6" y2="96.4" stroke="#3c3c3c" stroke-width="1.2"/>
<line x1="688.6" y1="75.02" x2="691.6" y2="75.02" stroke="#3c3c3c" stroke-width="1.2"/>
<line x1="687.6" y1="53.65" x2="691.6" y2="53.65" stroke="#3c3c3c" stroke-width="1.2"/>
<line x1="688.6" y1="32.27" x2="691.6" y2="32.27" stroke="#3c3c3c" stroke-width="1.2"/>
<text x="696.2" y="271.8" font-size="12" fill="#2a2a2a" stroke="#2a2a2a" stroke-width="0.55">0.00</text>
<text x="696.2" y="229.05" font-size="12" fill="#2a2a2a" stroke="#2a2a2a" stroke-width="0.55">0.25</text>
<text x="696.2" y="186.3" font-size="12" fill="#2a2a2a" stroke="#2a2a2a" stroke-width="0.55">0.50</text>
<text x="696.2" y="143.55" font-size="12" fill="#2a2a2a" stroke="#2a2a2a" stroke-width="0.55">0.75</text>
<text x="696.2" y="100.8" font-size="12" fill="#2a2a2a" stroke="#2a2a2a" stroke-width="0.55">1.00</text>
<text x="696.2" y="58.05" font-size="12" fill="#2a2a2a" stroke="#2a2a2a" stroke-width="0.55">1.25</text>
<text x="696.2" y="15.3" font-size="12" fill="#2a2a2a" stroke="#2a2a2a" stroke-width="0.55">1.50</text>
<text x="408.5" y="144.8" font-size="16.3" fill="#111" text-anchor="middle" font-weight="bold" textLength="83.6" lengthAdjust="spacingAndGlyphs" transform="rotate(-90 408.5 144.8)" stroke="#111" stroke-width="0.65">CD (mdeg)</text>
<text x="740" y="152.1" font-size="16" fill="#111" text-anchor="middle" font-weight="bold" textLength="93.2" lengthAdjust="spacingAndGlyphs" transform="rotate(-90 740 152.1)" stroke="#111" stroke-width="0.65">Absorbance</text>
<text x="564.1" y="309.2" font-size="16" fill="#111" text-anchor="middle" font-weight="bold" textLength="124.6" lengthAdjust="spacingAndGlyphs" stroke="#111" stroke-width="0.65">Wavelength (nm)</text>
<text x="635.8" y="26.9" font-size="11.5" fill="#2a2a2a" textLength="49.4" lengthAdjust="spacingAndGlyphs" stroke="#2a2a2a" stroke-width="0.55">Neat Film</text>
<g opacity="0.68">
<line x1="590.9" y1="137.8" x2="606.3" y2="137.8" stroke="#363636" stroke-width="1.6"/>
</g>
<text x="609.6" y="140.8" font-size="12" fill="#2a2a2a" stroke="#2a2a2a" stroke-width="0.42" textLength="47.4" lengthAdjust="spacingAndGlyphs"><tspan font-style="italic">S</tspan>-BN-CF</text>
<g opacity="0.68">
<line x1="590.9" y1="153.06" x2="606.3" y2="153.06" stroke="#363636" stroke-width="1.6" stroke-dasharray="2 2"/>
</g>
<text x="611" y="156.06" font-size="12" fill="#2a2a2a" stroke="#2a2a2a" stroke-width="0.42" textLength="47.9" lengthAdjust="spacingAndGlyphs"><tspan font-style="italic">R</tspan>-BN-CF</text>
<g opacity="0.68">
<line x1="590.9" y1="168.32" x2="606.3" y2="168.32" stroke="#d65f4e" stroke-width="1.6"/>
</g>
<text x="610.6" y="171.32" font-size="12" fill="#2a2a2a" stroke="#2a2a2a" stroke-width="0.42" textLength="59.2" lengthAdjust="spacingAndGlyphs"><tspan font-style="italic">S</tspan>-BN-CCB</text>
<g opacity="0.68">
<line x1="590.9" y1="183.58" x2="606.3" y2="183.58" stroke="#d65f4e" stroke-width="1.6" stroke-dasharray="2 2"/>
</g>
<text x="611" y="186.58" font-size="12" fill="#2a2a2a" stroke="#2a2a2a" stroke-width="0.42" textLength="58.4" lengthAdjust="spacingAndGlyphs"><tspan font-style="italic">R</tspan>-BN-CCB</text>
<g opacity="0.68">
<line x1="590.9" y1="198.84" x2="606.3" y2="198.84" stroke="#4b5bb0" stroke-width="1.6"/>
</g>
<text x="610.6" y="201.84" font-size="12" fill="#2a2a2a" stroke="#2a2a2a" stroke-width="0.42" textLength="59.2" lengthAdjust="spacingAndGlyphs"><tspan font-style="italic">S</tspan>-BN-DCB</text>
<g opacity="0.68">
<line x1="590.9" y1="214.1" x2="606.3" y2="214.1" stroke="#4b5bb0" stroke-width="1.6" stroke-dasharray="2 2"/>
</g>
<text x="611" y="217.1" font-size="12" fill="#2a2a2a" stroke="#2a2a2a" stroke-width="0.42" textLength="58.4" lengthAdjust="spacingAndGlyphs"><tspan font-style="italic">R</tspan>-BN-DCB</text>
<g opacity="0.68">
<line x1="590.9" y1="229.36" x2="606.3" y2="229.36" stroke="#8e8c45" stroke-width="1.6"/>
</g>
<text x="610.6" y="232.36" font-size="12" fill="#2a2a2a" stroke="#2a2a2a" stroke-width="0.42" textLength="48.7" lengthAdjust="spacingAndGlyphs"><tspan font-style="italic">S</tspan>-BN-AF</text>
<g opacity="0.68">
<line x1="590.9" y1="244.62" x2="606.3" y2="244.62" stroke="#8e8c45" stroke-width="1.6" stroke-dasharray="2 2"/>
</g>
<text x="611" y="247.62" font-size="12" fill="#2a2a2a" stroke="#2a2a2a" stroke-width="0.42" textLength="47.3" lengthAdjust="spacingAndGlyphs"><tspan font-style="italic">R</tspan>-BN-AF</text>
<line x1="75.9" y1="489.5" x2="327.2" y2="489.5" stroke="#2e2e2e" stroke-width="1.2"/>
<path d="M76.5 614.9 C79.8 614.77 83.62 615.15 86.4 614.5 C88.59 613.99 90.24 613.13 92 612 C93.89 610.78 95.94 609.02 97.3 607.3 C98.52 605.76 98.84 604.47 100 602.3 C102.15 598.27 105.96 590.46 109.1 585 C112.04 579.89 114.66 573.73 118.2 570.5 C120.93 568.01 124.42 566.75 127.3 565.9 C129.64 565.21 131.75 565.27 134 565.2 C136.28 565.13 138.36 565.09 140.9 565.5 C144.15 566.02 147.99 567.06 151.8 568.6 C156.41 570.46 161.75 573.68 166.4 576.4 C170.83 578.99 174.68 581.47 179.1 584.5 C184.16 587.97 189.41 592.62 195 596.2 C200.73 599.87 206.92 603.59 213.1 606.2 C219.03 608.7 225.19 610.4 231.3 611.7 C237.29 612.98 243.68 613.46 249.4 614 C254.52 614.48 259.13 614.6 264 614.9" fill="none" stroke="#303030" stroke-width="1.15" stroke-linejoin="round" stroke-opacity="0.9"/>
<path d="M145.5 603.6 C150.03 600.57 154.67 598.14 159.1 594.5 C164.06 590.43 168.6 584.33 173.6 580 C178.32 575.92 183.8 571.59 188.2 569.1 C191.38 567.3 194 566.18 197 565.5 C199.9 564.84 202.81 564.66 205.9 565 C209.38 565.39 213.01 566.51 216.8 568.1 C221.4 570.02 226.22 573.33 231.3 576.3 C237.02 579.64 243.29 583.86 249.4 587.2 C255.39 590.48 261.46 593.61 267.6 596.2 C273.57 598.72 279.61 600.78 285.7 602.6 C291.71 604.4 297.98 605.88 303.9 607.1 C309.46 608.25 314.77 608.9 320.2 609.8" fill="none" stroke="#80803a" stroke-width="1.15" stroke-linejoin="round" stroke-opacity="0.9"/>
<path d="M118.2 614.9 C120.63 613.43 123.38 612.31 125.5 610.5 C127.6 608.7 129.1 606.74 130.9 604.1 C133.34 600.51 135.78 594.65 138.2 590.5 C140.31 586.87 142.38 583.67 144.5 580.5 C146.49 577.52 148.73 574.31 150.5 572 C151.79 570.33 152.8 568.88 154 567.8 C154.98 566.92 155.96 566.25 157 565.8 C157.96 565.38 159 565.1 160 565.1 C161 565.1 161.92 565.31 163 565.8 C164.56 566.5 166.04 567.95 168.2 569.5 C171.82 572.1 177.99 576.93 182.7 580 C186.9 582.74 190.57 584.36 195 587.2 C200.52 590.74 206.88 596.38 213.1 599.9 C219 603.24 225.15 605.87 231.3 608 C237.25 610.07 243.32 611.53 249.4 612.6 C255.42 613.66 262.91 614.01 267.6 614.4 C270.54 614.65 272.4 614.73 274.8 614.9" fill="none" stroke="#4050b0" stroke-width="1.15" stroke-linejoin="round" stroke-opacity="0.9"/>
<path d="M118 614.9 C120.43 613.47 123.18 612.38 125.3 610.6 C127.4 608.84 128.9 606.91 130.7 604.3 C133.14 600.75 135.61 594.93 138 590.8 C140.1 587.18 142.1 583.96 144.2 580.8 C146.17 577.84 148.45 574.7 150.2 572.4 C151.47 570.74 152.43 569.32 153.6 568.2 C154.57 567.27 155.55 566.48 156.6 566 C157.56 565.56 158.6 565.3 159.6 565.3 C160.6 565.3 161.51 565.5 162.6 566 C164.2 566.73 165.76 568.29 168 569.9 C171.7 572.55 177.95 577.32 182.7 580.4 C186.92 583.13 190.57 584.76 195 587.6 C200.52 591.13 206.89 596.7 213.1 600.2 C219 603.53 225.15 606.18 231.3 608.3 C237.25 610.35 243.89 611.72 249.4 612.8 C253.95 613.69 257.8 614 262 614.6" fill="none" stroke="#d84a3f" stroke-width="1.15" stroke-linejoin="round" stroke-opacity="0.9"/>
<path d="M75.9 463.3 C80.5 460.37 85.45 457.91 89.7 454.5 C93.99 451.05 97.74 446.46 101.5 442.7 C104.94 439.26 107.81 434.87 111.4 432.8 C114.46 431.04 117.75 430.65 121.2 430.2 C124.92 429.71 129.11 429.62 133 430.2 C136.98 430.79 140.89 432.4 144.8 433.8 C148.79 435.23 152.72 437.21 156.7 438.7 C160.62 440.17 164.52 441.71 168.5 442.7 C172.39 443.67 176.6 443.56 180.3 444.6 C183.78 445.58 186.78 447.61 190.1 448.6 C193.34 449.56 196.39 449.66 200 450.5 C204.44 451.53 209.54 452.54 214.7 454.5 C220.9 456.86 227.87 460.87 234.4 464.3 C241 467.77 247.33 472.8 254.1 475.2 C260.48 477.46 266.65 478.02 273.8 478.7 C282.2 479.5 292.44 478.17 301.4 479.1 C310.06 479.99 318.27 482.37 326.7 484" fill="none" stroke="#303030" stroke-width="1.15" stroke-linejoin="round" stroke-opacity="0.9"/>
<path d="M108.4 492.9 C109.4 490.93 109.73 489.12 111.4 487 C114.16 483.49 120.93 479.47 125.2 475.2 C129.47 470.93 132.89 465.47 137 461.4 C140.78 457.65 144.42 453.63 148.8 451.5 C152.99 449.46 157.69 448.98 162.6 448.6 C168.11 448.17 174.67 449.34 180.3 449.5 C185.43 449.65 189.77 449.07 195 449.6 C201.11 450.22 208.2 451.73 214.7 453.5 C221.33 455.31 227.95 457.53 234.4 460.4 C241.09 463.38 247.06 468.29 254.1 471.2 C261.48 474.25 269.83 476.79 277.8 478.1 C285.6 479.38 293.53 478.77 301.4 479.1" fill="none" stroke="#4050b0" stroke-width="1.15" stroke-linejoin="round" stroke-opacity="0.9"/>
<path d="M107.4 494.8 C108.4 492.2 108.85 489.95 110.4 487 C112.74 482.54 117.5 476.53 121.2 471.2 C125.03 465.7 129.14 459.51 133 454.5 C136.35 450.15 139.15 445.87 142.9 442.7 C146.43 439.72 150.49 436.34 154.7 435.8 C159.01 435.25 163.71 438.72 168.5 439.7 C173.53 440.72 179.48 440.77 184.2 441.7 C188.16 442.48 190.87 443.43 195 444.6 C200.6 446.19 208.1 448.84 214.7 450.5 C221.23 452.14 227.97 453.74 234.4 454.5 C240.45 455.21 246.36 453.99 252.2 455.1 C258.2 456.24 264.37 459.43 269.9 461.4 C274.79 463.14 279.37 464.29 283.7 466.3 C287.88 468.25 291.98 471.97 295.5 473.2 C298.01 474.08 300.1 473.87 302.4 474.2" fill="none" stroke="#d84a3f" stroke-width="1.15" stroke-linejoin="round" stroke-opacity="0.9"/>
<path d="M144.8 486 C150.07 484.37 155.42 483.18 160.6 481.1 C165.96 478.95 171.48 475.45 176.4 473.2 C180.58 471.29 184.2 469.45 188.2 468.3 C192.07 467.18 196.16 466.98 200 466.3 C203.68 465.65 206.97 464.83 210.8 464.3 C215.11 463.7 220.05 462.52 224.6 463 C229.25 463.49 233.73 465.41 238.4 467.3 C243.55 469.38 248.42 473.31 254.1 475.2 C260.16 477.21 266.65 478.15 273.8 478.7 C282.2 479.35 294.99 478.17 301.4 478.1 C304.83 478.06 306.18 477.75 309.3 478.1 C313.99 478.63 320.9 480.77 326.7 482.1" fill="none" stroke="#80803a" stroke-width="1.15" stroke-linejoin="round" stroke-opacity="0.9"/>
<path d="M75.9 516.5 C81.2 521.9 86.09 528.54 91.8 532.7 C96.93 536.44 103.75 540.4 108.2 540.9 C111.05 541.22 112.67 539.02 115.5 539.1 C119.53 539.22 124.65 542.1 130 543.6 C136.51 545.43 145.02 549.97 151.8 549.1 C158.32 548.26 164.32 542.44 170 539.1 C175.15 536.07 179.5 532.73 184.5 530 C189.5 527.27 194.88 524.97 200 522.7 C204.94 520.51 209.39 518.49 214.7 516.6 C220.74 514.45 227.84 512.68 234.4 510.7 C240.97 508.72 247.49 506.36 254.1 504.7 C260.63 503.06 267.22 501.95 273.8 500.8 C280.35 499.65 286.09 499.02 293.5 497.8 C303.14 496.21 315.63 493.87 326.7 491.9" fill="none" stroke="#303030" stroke-width="1.05" stroke-dasharray="2 2.4" stroke-linejoin="round" stroke-opacity="0.9"/>
<path d="M108.4 495.8 C110.03 496.8 111.27 497.28 113.3 498.8 C117.32 501.82 124.1 508.96 130 514 C136.29 519.37 143.16 526.21 150 530 C155.94 533.29 162.84 535.26 168.2 536.4 C172.23 537.26 175.15 537.62 179.1 537.3 C183.93 536.9 189.5 535.2 195 533.3 C201.31 531.12 208.06 526.99 214.7 524.5 C221.19 522.07 227.86 520.64 234.4 518.5 C240.99 516.34 247.49 513.58 254.1 511.6 C260.62 509.65 266.55 508.32 273.8 506.7 C282.64 504.72 294.15 502.89 303.4 500.8 C311.66 498.93 318.93 496.87 326.7 494.9" fill="none" stroke="#4050b0" stroke-width="1.05" stroke-dasharray="2 2.4" stroke-linejoin="round" stroke-opacity="0.9"/>
<path d="M107.4 496.8 C111.33 500.73 115.3 504.92 119.2 508.6 C122.83 512.02 126.24 514.12 130 518.2 C135.17 523.81 141.05 533.1 146.4 540 C151.34 546.38 155.81 556.24 160.9 558.2 C164.41 559.55 167.96 557.43 171.8 556.4 C176.37 555.18 182.16 552.39 186.4 550.9 C189.63 549.77 191.68 549.63 195 548.1 C200.21 545.7 207.57 540.51 214 536.5 C220.7 532.32 227.56 527.38 234.4 523.5 C240.93 519.79 247.41 516.26 254.1 513.6 C260.56 511.03 266.53 509.63 273.8 507.7 C282.63 505.35 293.53 503.1 303.4 500.8" fill="none" stroke="#d84a3f" stroke-width="1.05" stroke-dasharray="1.8 2.6" stroke-linejoin="round" stroke-opacity="0.9"/>
<path d="M146.8 507.7 C151.5 507.27 156.33 506.29 160.9 506.4 C165.25 506.51 169.41 506.57 173.6 508.2 C178.52 510.11 183.56 515.18 188.2 518.2 C192.31 520.88 195.66 524.42 200 525.5 C204.47 526.61 209.48 525.33 214.7 524.5 C220.83 523.52 227.85 521.31 234.4 519.5 C240.99 517.68 247.49 515.24 254.1 513.6 C260.63 511.98 266.58 511.26 273.8 509.7 C282.68 507.79 294.16 505.24 303.4 502.8 C311.67 500.61 318.93 498.2 326.7 495.9" fill="none" stroke="#80803a" stroke-width="1.05" stroke-dasharray="2 2.4" stroke-linejoin="round" stroke-opacity="0.9"/>
<ellipse cx="180.9" cy="575" rx="8.2" ry="18.6" fill="none" stroke="#333" stroke-width="1.1"/>
<line x1="182" y1="556.2" x2="198.15" y2="556.2" stroke="#222" stroke-width="1.2"/>
<path d="M202 556.2 L196.5 553.9 L196.5 558.5 Z" fill="#222"/>
<ellipse cx="308.3" cy="477.7" rx="5.9" ry="26.1" fill="none" stroke="#333" stroke-width="1.1"/>
<line x1="308" y1="453.3" x2="295.05" y2="453.3" stroke="#222" stroke-width="1.2"/>
<path d="M291.2 453.3 L296.7 451 L296.7 455.6 Z" fill="#222"/>
<rect x="75.9" y="363.8" width="251.3" height="251.4" fill="none" stroke="#3c3c3c" stroke-width="1.3"/>
<line x1="71.7" y1="363.74" x2="75.9" y2="363.74" stroke="#3c3c3c" stroke-width="1.2"/>
<text x="69" y="367.04" font-size="12.3" fill="#2a2a2a" text-anchor="end" stroke="#2a2a2a" stroke-width="0.55">12</text>
<line x1="71.7" y1="405.66" x2="75.9" y2="405.66" stroke="#3c3c3c" stroke-width="1.2"/>
<text x="69" y="408.96" font-size="12.3" fill="#2a2a2a" text-anchor="end" stroke="#2a2a2a" stroke-width="0.55">8</text>
<line x1="71.7" y1="447.58" x2="75.9" y2="447.58" stroke="#3c3c3c" stroke-width="1.2"/>
<text x="69" y="450.88" font-size="12.3" fill="#2a2a2a" text-anchor="end" stroke="#2a2a2a" stroke-width="0.55">4</text>
<line x1="71.7" y1="489.5" x2="75.9" y2="489.5" stroke="#3c3c3c" stroke-width="1.2"/>
<text x="69" y="492.8" font-size="12.3" fill="#2a2a2a" text-anchor="end" stroke="#2a2a2a" stroke-width="0.55">0</text>
<line x1="71.7" y1="531.42" x2="75.9" y2="531.42" stroke="#3c3c3c" stroke-width="1.2"/>
<text x="69" y="534.72" font-size="12.3" fill="#2a2a2a" text-anchor="end" stroke="#2a2a2a" stroke-width="0.55">-4</text>
<line x1="71.7" y1="573.34" x2="75.9" y2="573.34" stroke="#3c3c3c" stroke-width="1.2"/>
<text x="69" y="576.64" font-size="12.3" fill="#2a2a2a" text-anchor="end" stroke="#2a2a2a" stroke-width="0.55">-8</text>
<line x1="71.7" y1="615.26" x2="75.9" y2="615.26" stroke="#3c3c3c" stroke-width="1.2"/>
<text x="69" y="618.56" font-size="12.3" fill="#2a2a2a" text-anchor="end" stroke="#2a2a2a" stroke-width="0.55">-12</text>
<line x1="73.4" y1="384.7" x2="75.9" y2="384.7" stroke="#3c3c3c" stroke-width="1.2"/>
<line x1="73.4" y1="426.62" x2="75.9" y2="426.62" stroke="#3c3c3c" stroke-width="1.2"/>
<line x1="73.4" y1="468.54" x2="75.9" y2="468.54" stroke="#3c3c3c" stroke-width="1.2"/>
<line x1="73.4" y1="510.46" x2="75.9" y2="510.46" stroke="#3c3c3c" stroke-width="1.2"/>
<line x1="73.4" y1="552.38" x2="75.9" y2="552.38" stroke="#3c3c3c" stroke-width="1.2"/>
<line x1="73.4" y1="594.3" x2="75.9" y2="594.3" stroke="#3c3c3c" stroke-width="1.2"/>
<line x1="85.57" y1="615.2" x2="85.57" y2="619.2" stroke="#3c3c3c" stroke-width="1.2"/>
<text x="85.57" y="631.7" font-size="12" fill="#2a2a2a" text-anchor="middle" stroke="#2a2a2a" stroke-width="0.55">450</text>
<line x1="133.89" y1="615.2" x2="133.89" y2="619.2" stroke="#3c3c3c" stroke-width="1.2"/>
<text x="133.89" y="631.7" font-size="12" fill="#2a2a2a" text-anchor="middle" stroke="#2a2a2a" stroke-width="0.55">500</text>
<line x1="182.22" y1="615.2" x2="182.22" y2="619.2" stroke="#3c3c3c" stroke-width="1.2"/>
<text x="182.22" y="631.7" font-size="12" fill="#2a2a2a" text-anchor="middle" stroke="#2a2a2a" stroke-width="0.55">550</text>
<line x1="230.54" y1="615.2" x2="230.54" y2="619.2" stroke="#3c3c3c" stroke-width="1.2"/>
<text x="230.54" y="631.7" font-size="12" fill="#2a2a2a" text-anchor="middle" stroke="#2a2a2a" stroke-width="0.55">600</text>
<line x1="278.87" y1="615.2" x2="278.87" y2="619.2" stroke="#3c3c3c" stroke-width="1.2"/>
<text x="278.87" y="631.7" font-size="12" fill="#2a2a2a" text-anchor="middle" stroke="#2a2a2a" stroke-width="0.55">650</text>
<line x1="327.19" y1="615.2" x2="327.19" y2="619.2" stroke="#3c3c3c" stroke-width="1.2"/>
<text x="327.19" y="631.7" font-size="12" fill="#2a2a2a" text-anchor="middle" stroke="#2a2a2a" stroke-width="0.55">700</text>
<line x1="109.73" y1="615.2" x2="109.73" y2="617.7" stroke="#3c3c3c" stroke-width="1.2"/>
<line x1="158.05" y1="615.2" x2="158.05" y2="617.7" stroke="#3c3c3c" stroke-width="1.2"/>
<line x1="206.38" y1="615.2" x2="206.38" y2="617.7" stroke="#3c3c3c" stroke-width="1.2"/>
<line x1="254.7" y1="615.2" x2="254.7" y2="617.7" stroke="#3c3c3c" stroke-width="1.2"/>
<line x1="303.03" y1="615.2" x2="303.03" y2="617.7" stroke="#3c3c3c" stroke-width="1.2"/>
<line x1="324.2" y1="590.06" x2="327.2" y2="590.06" stroke="#3c3c3c" stroke-width="1.2"/>
<line x1="323.2" y1="564.92" x2="327.2" y2="564.92" stroke="#3c3c3c" stroke-width="1.2"/>
<line x1="324.2" y1="539.78" x2="327.2" y2="539.78" stroke="#3c3c3c" stroke-width="1.2"/>
<line x1="323.2" y1="514.64" x2="327.2" y2="514.64" stroke="#3c3c3c" stroke-width="1.2"/>
<line x1="324.2" y1="489.5" x2="327.2" y2="489.5" stroke="#3c3c3c" stroke-width="1.2"/>
<line x1="323.2" y1="464.36" x2="327.2" y2="464.36" stroke="#3c3c3c" stroke-width="1.2"/>
<line x1="324.2" y1="439.22" x2="327.2" y2="439.22" stroke="#3c3c3c" stroke-width="1.2"/>
<line x1="323.2" y1="414.08" x2="327.2" y2="414.08" stroke="#3c3c3c" stroke-width="1.2"/>
<line x1="324.2" y1="388.94" x2="327.2" y2="388.94" stroke="#3c3c3c" stroke-width="1.2"/>
<text x="331" y="618.7" font-size="12" fill="#2a2a2a" stroke="#2a2a2a" stroke-width="0.55">0</text>
<text x="331" y="568.42" font-size="12" fill="#2a2a2a" stroke="#2a2a2a" stroke-width="0.55">1</text>
<text x="331" y="518.14" font-size="12" fill="#2a2a2a" stroke="#2a2a2a" stroke-width="0.55">2</text>
<text x="331" y="467.86" font-size="12" fill="#2a2a2a" stroke="#2a2a2a" stroke-width="0.55">3</text>
<text x="331" y="417.58" font-size="12" fill="#2a2a2a" stroke="#2a2a2a" stroke-width="0.55">4</text>
<text x="331" y="367.3" font-size="12" fill="#2a2a2a" stroke="#2a2a2a" stroke-width="0.55">5</text>
<text x="37.5" y="604.7" font-size="17" fill="#111" font-weight="bold" textLength="117.4" lengthAdjust="spacingAndGlyphs" transform="rotate(-90 37.5 604.7)" stroke="#111" stroke-width="0.65">CPL intensity</text>
<text x="37.5" y="482" font-size="15.5" fill="#111" font-family="Liberation Serif" textLength="20.6" lengthAdjust="spacingAndGlyphs" transform="rotate(-90 37.5 482)" stroke="#111" stroke-width="0.45">(10</text>
<text x="27.6" y="461.2" font-size="10" fill="#111" font-family="Liberation Serif" textLength="11" lengthAdjust="spacingAndGlyphs" transform="rotate(-90 27.6 461.2)" stroke="#111" stroke-width="0.45">−4</text>
<text x="37.5" y="450.2" font-size="15.5" fill="#111" font-family="Liberation Serif" transform="rotate(-90 37.5 450.2)" stroke="#111" stroke-width="0.45">,</text>
<text x="37.5" y="441" font-size="15" fill="#111" font-family="Liberation Serif" textLength="26" lengthAdjust="spacingAndGlyphs" transform="rotate(-90 37.5 441)" stroke="#111" stroke-width="0.45">Δ I)</text>
<text x="357.2" y="584.8" font-size="16" fill="#111" font-weight="bold" textLength="174.2" lengthAdjust="spacingAndGlyphs" transform="rotate(-90 357.2 584.8)" stroke="#111" stroke-width="0.65">PL intensity (arb. units)</text>
<text x="201.6" y="656.2" font-size="15.5" fill="#111" text-anchor="middle" font-weight="bold" textLength="123" lengthAdjust="spacingAndGlyphs" stroke="#111" stroke-width="0.65">Wavelength (nm)</text>
<text x="279.6" y="377.9" font-size="12.4" fill="#2a2a2a" textLength="40.8" lengthAdjust="spacingAndGlyphs" stroke="#2a2a2a" stroke-width="0.55">Solution</text>
<g opacity="0.68">
<line x1="80.4" y1="372.7" x2="101.9" y2="372.7" stroke="#303030" stroke-width="1.6"/>
</g>
<text x="104.3" y="376.1" font-size="12" fill="#2a2a2a" stroke="#2a2a2a" stroke-width="0.42" textLength="50.3" lengthAdjust="spacingAndGlyphs"><tspan font-style="italic">S</tspan>-BN-CF</text>
<g opacity="0.68">
<line x1="80.4" y1="388.95" x2="101.9" y2="388.95" stroke="#303030" stroke-width="1.6" stroke-dasharray="2 2.4"/>
</g>
<text x="106.7" y="392.35" font-size="12" fill="#2a2a2a" stroke="#2a2a2a" stroke-width="0.42" textLength="48.9" lengthAdjust="spacingAndGlyphs"><tspan font-style="italic">R</tspan>-BN-CF</text>
<g opacity="0.68">
<line x1="80.4" y1="405.2" x2="101.9" y2="405.2" stroke="#4050b0" stroke-width="1.6"/>
</g>
<text x="105.8" y="408.6" font-size="12" fill="#2a2a2a" stroke="#2a2a2a" stroke-width="0.42" textLength="59.7" lengthAdjust="spacingAndGlyphs"><tspan font-style="italic">S</tspan>-BN-CCB</text>
<g opacity="0.68">
<line x1="80.4" y1="421.45" x2="101.9" y2="421.45" stroke="#4050b0" stroke-width="1.6" stroke-dasharray="2 2.4"/>
</g>
<text x="106.7" y="424.85" font-size="12" fill="#2a2a2a" stroke="#2a2a2a" stroke-width="0.42" textLength="60.3" lengthAdjust="spacingAndGlyphs"><tspan font-style="italic">R</tspan>-BN-CCB</text>
<g opacity="0.68">
<line x1="177.2" y1="372.7" x2="198.7" y2="372.7" stroke="#d84a3f" stroke-width="1.6"/>
</g>
<text x="203.5" y="376.1" font-size="12" fill="#2a2a2a" stroke="#2a2a2a" stroke-width="0.42" textLength="60.5" lengthAdjust="spacingAndGlyphs"><tspan font-style="italic">S</tspan>-BN-DCB</text>
<g opacity="0.68">
<line x1="177.2" y1="388.95" x2="198.7" y2="388.95" stroke="#d84a3f" stroke-width="1.6" stroke-dasharray="1.8 2.6"/>
</g>
<text x="206" y="392.35" font-size="12" fill="#2a2a2a" stroke="#2a2a2a" stroke-width="0.42" textLength="60.2" lengthAdjust="spacingAndGlyphs"><tspan font-style="italic">R</tspan>-BN-DCB</text>
<g opacity="0.68">
<line x1="177.2" y1="405.2" x2="198.7" y2="405.2" stroke="#80803a" stroke-width="1.6"/>
</g>
<text x="203.5" y="408.6" font-size="12" fill="#2a2a2a" stroke="#2a2a2a" stroke-width="0.42" textLength="48.4" lengthAdjust="spacingAndGlyphs"><tspan font-style="italic">S</tspan>-BN-AF</text>
<g opacity="0.68">
<line x1="177.2" y1="421.45" x2="198.7" y2="421.45" stroke="#80803a" stroke-width="1.6" stroke-dasharray="2 2.4"/>
</g>
<text x="206" y="424.85" font-size="12" fill="#2a2a2a" stroke="#2a2a2a" stroke-width="0.42" textLength="49.2" lengthAdjust="spacingAndGlyphs"><tspan font-style="italic">R</tspan>-BN-AF</text>
<line x1="437.8" y1="497.3" x2="689.2" y2="497.3" stroke="#2e2e2e" stroke-width="1.2"/>
<path d="M437.6 614.9 C440.3 614.23 442.94 613.91 445.7 612.9 C448.85 611.75 452.46 609.82 455.4 608.1 C458.04 606.56 460.22 604.92 462.6 603.2 C465.05 601.43 467.58 599.52 469.9 597.6 C472.14 595.75 474.1 593.85 476.3 591.9 C478.63 589.83 481.28 587.47 483.5 585.5 C485.4 583.81 486.95 582.35 488.8 580.8 C490.74 579.18 492.93 577.41 494.9 576 C496.65 574.75 498.02 573.83 500 572.7 C502.56 571.24 506.01 569.36 509.1 568.2 C512.08 567.08 515.14 566.2 518.2 565.8 C521.21 565.41 524.03 565.53 527.3 565.8 C531.19 566.12 535.62 566.9 540 567.9 C544.82 569 549.77 570.48 555 572.3 C560.96 574.37 567.74 577.18 573.8 579.9 C579.66 582.53 585.13 585.5 590.8 588.3" fill="none" stroke="#2c2c2c" stroke-width="1.15" stroke-linejoin="round" stroke-opacity="0.9"/>
<path d="M463.4 606.9 C465.83 607.03 468.17 607.42 470.7 607.3 C473.48 607.17 476.5 606.66 479.4 606 C482.4 605.31 485.23 604.32 488.4 603.2 C492.04 601.91 496.16 600.47 500 598.6 C504.07 596.61 508.12 594.06 512.1 591.5 C516.19 588.87 520.44 585.56 524.2 583 C527.43 580.8 530.47 578.71 533.3 577 C535.67 575.56 537.52 574.58 540 573.3 C542.98 571.76 546.6 569.73 550 568.5 C553.27 567.32 556.49 566.6 560 566 C563.79 565.36 568.06 565.06 572 564.9 C575.79 564.74 579.02 564.49 583.2 565 C588.69 565.67 595.77 567.67 602 569.5 C608.34 571.36 614.61 573.9 620.9 576.1 C627.18 578.3 633.46 580.36 639.7 582.7 C645.99 585.06 651.44 587.73 658.5 590.2 C667.3 593.28 678.57 596.27 688.6 599.3" fill="none" stroke="#8a8a3c" stroke-width="1.15" stroke-linejoin="round" stroke-opacity="0.9"/>
<path d="M437.6 614.9 C442.43 614.77 447.78 615.09 452.1 614.5 C455.69 614.01 458.56 613.23 461.8 612.1 C465.29 610.88 468.97 608.97 472.3 607.3 C475.42 605.73 478.12 604.07 481.2 602.4 C484.5 600.61 488.29 598.88 491.5 596.9 C494.53 595.03 497.17 593.12 500 590.9 C503.04 588.52 506.01 585.45 509.1 583 C512.08 580.63 515.12 578.44 518.2 576.4 C521.19 574.42 524.2 572.44 527.3 570.9 C530.27 569.43 533.49 568.16 536.4 567.3 C538.96 566.54 541.06 566.12 543.8 565.8 C547.13 565.41 550.81 565.02 555 565.4 C560.49 565.89 567.61 567.6 573.8 569.5 C580.15 571.44 586.33 574.49 592.6 577 C598.89 579.52 605.18 582.22 611.5 584.6 C617.75 586.95 624.01 589.16 630.3 591.2 C636.54 593.22 642.07 594.88 649.1 596.8 C657.93 599.21 669.17 601.8 679.2 604.3" fill="none" stroke="#3f51b3" stroke-width="1.15" stroke-linejoin="round" stroke-opacity="0.9"/>
<path d="M437.6 614.9 C439.73 614.9 441.54 615.14 444 614.9 C447.43 614.57 452.19 613.68 456.2 612.5 C460.3 611.3 465.05 609.29 468.3 607.7 C470.64 606.56 471.93 605.78 474.1 604.3 C477.19 602.2 481.41 598.81 484.8 595.9 C488.1 593.07 491.4 589.54 494.2 587.1 C496.33 585.25 497.84 584.13 500 582.4 C502.69 580.25 506.02 577.44 509.1 575.2 C512.09 573.02 515.07 570.69 518.2 569.1 C521.15 567.61 524.48 566.58 527.3 565.8 C529.65 565.15 531.73 564.77 533.9 564.5 C535.96 564.25 537.88 564.11 540 564.2 C542.33 564.3 544.86 564.66 547.3 565.2 C549.86 565.77 551.91 566.43 555 567.6 C559.94 569.48 567.56 573.13 573.8 576.1 C580.1 579.1 586.29 582.51 592.6 585.5 C598.86 588.47 605.15 591.46 611.5 594 C617.72 596.49 623.99 598.71 630.3 600.6 C636.52 602.47 642.81 603.95 649.1 605.3 C655.34 606.64 661.46 607.84 667.9 608.7 C674.61 609.6 681.7 609.9 688.6 610.5" fill="none" stroke="#d8473e" stroke-width="1.15" stroke-linejoin="round" stroke-opacity="0.9"/>
<path d="M461.5 496 C466.1 494.67 470.55 493.42 475.3 492 C480.4 490.47 485.56 488.93 491.1 487.1 C497.32 485.05 504.26 482.66 510.8 480.2 C517.39 477.72 524.24 474.32 530.5 472.3 C535.97 470.53 540.93 469.32 546.2 468.4 C551.43 467.49 557.02 467.13 562 466.8 C566.46 466.5 570.01 466.24 574.7 466.4 C580.55 466.6 587.87 467.26 594.4 468.4 C601.01 469.55 607.52 471.81 614.1 473.3 C620.65 474.78 627.26 475.82 633.8 477.3 C640.36 478.78 645.85 480.64 653.4 482.2 C663.51 484.29 677.27 486.13 689.2 488.1" fill="none" stroke="#8a8a3c" stroke-width="1.15" stroke-linejoin="round" stroke-opacity="0.9"/>
<path d="M437.9 497 C442.5 496.67 446.98 496.76 451.7 496 C456.82 495.17 462.37 494.04 467.5 492 C472.89 489.85 478 486.29 483.2 483.2 C488.5 480.06 493.74 476.59 499 473.3 C504.24 470.02 509.39 466.48 514.7 463.5 C519.89 460.59 525.11 457.4 530.5 455.6 C535.62 453.88 540.94 453.13 546.2 452.7 C551.44 452.27 557.06 452.27 562 453 C566.51 453.67 570.05 455.01 574.7 456.6 C580.6 458.61 587.83 461.88 594.4 464.5 C600.96 467.12 607.48 470 614.1 472.3 C620.62 474.56 627.22 476.38 633.8 478.2 C640.32 480.01 646.41 481.64 653.4 483.2 C661.34 484.97 670.47 486.47 679 488.1" fill="none" stroke="#3f51b3" stroke-width="1.15" stroke-linejoin="round" stroke-opacity="0.9"/>
<path d="M437.9 497 C442.5 496.33 447.18 496.27 451.7 495 C456.39 493.68 461.1 491.83 465.5 489.1 C470.34 486.09 474.78 481.48 479.3 477.3 C483.99 472.97 488.47 467.98 493.1 463.5 C497.64 459.11 502.01 454.23 506.8 450.7 C511.21 447.45 515.84 444.44 520.6 442.8 C525.06 441.26 529.79 440.9 534.4 440.8 C538.99 440.7 543.65 441.27 548.2 442.2 C552.85 443.15 557.59 444.6 562 446.5 C566.42 448.4 570 450.99 574.7 453.6 C580.55 456.85 587.8 461.03 594.4 464.5 C600.93 467.93 607.44 471.49 614.1 474.3 C620.58 477.04 627.22 479.06 633.8 481.2 C640.32 483.32 646.8 485.63 653.4 487.1 C659.91 488.55 666.86 489.15 673.1 490 C678.73 490.76 683.83 491.33 689.2 492" fill="none" stroke="#d8473e" stroke-width="1.15" stroke-linejoin="round" stroke-opacity="0.9"/>
<path d="M437.9 497 C442.5 495.03 447.46 493.71 451.7 491.1 C456 488.46 459.72 484.95 463.5 481.2 C467.61 477.13 471.39 472.1 475.3 467.4 C479.29 462.6 483.12 457.25 487.2 452.7 C491.04 448.42 494.75 443.57 499 440.8 C502.69 438.4 506.87 436.3 510.8 436.3 C514.73 436.3 518.88 438.49 522.6 440.8 C526.8 443.4 530.52 447.9 534.4 451.7 C538.39 455.62 542.49 460.43 546.2 464 C549.28 466.97 551.88 468.92 555 471.8 C558.68 475.21 562.73 479.21 566.8 483.2 C571.23 487.54 576.05 492.96 580.6 496.9 C584.57 500.34 588.47 502.83 592.4 505.8" fill="none" stroke="#2c2c2c" stroke-width="1.15" stroke-linejoin="round" stroke-opacity="0.9"/>
<path d="M463.5 502.5 C470.07 502.63 476.68 502.03 483.2 502.9 C489.82 503.78 496.38 505.85 502.9 507.8 C509.51 509.78 516.03 512.4 522.6 514.7 C529.17 517 536.45 519.56 542.3 521.6 C546.99 523.24 550.23 525.01 555 526 C560.78 527.2 568.14 527.58 574.7 527.5 C581.27 527.42 587.86 526.48 594.4 525.5 C600.99 524.52 607.55 523.08 614.1 521.6 C620.69 520.11 627.24 518.25 633.8 516.6 C640.34 514.95 645.84 513.16 653.4 511.7 C663.5 509.75 677.27 508.43 689.2 506.8" fill="none" stroke="#8a8a3c" stroke-width="1.05" stroke-dasharray="2 2.4" stroke-linejoin="round" stroke-opacity="0.9"/>
<path d="M437.9 497.3 C445.77 497.53 454.02 497.15 461.5 498 C468.4 498.78 474.7 500.13 481.2 501.9 C487.83 503.71 494.55 506.28 500.9 508.8 C507.03 511.23 513.2 513.18 518.7 516.7 C524.4 520.35 529.28 526.22 534.4 530.5 C539.1 534.43 543.74 539.47 548.2 541.5 C551.55 543.02 554.33 543.5 558 543.3 C562.86 543.03 568.9 540.04 574.7 538.3 C581 536.41 587.91 534.82 594.4 532.4 C601.05 529.91 607.47 526.15 614.1 523.5 C620.61 520.9 627.22 518.74 633.8 516.6 C640.32 514.48 646.37 512.29 653.4 510.7 C661.31 508.92 670.47 508.1 679 506.8" fill="none" stroke="#3f51b3" stroke-width="1.05" stroke-dasharray="2 2.4" stroke-linejoin="round" stroke-opacity="0.9"/>
<path d="M437.9 498.9 C441.2 502.2 444.2 505.84 447.8 508.8 C451.43 511.78 455.18 513.68 459.6 516.7 C465.35 520.64 473.01 526.55 479.3 530.5 C484.74 533.92 489.62 537.06 495 539.3 C500.14 541.44 505.5 543.32 510.8 543.8 C516 544.27 521.26 542.72 526.5 542.3 C531.75 541.88 537.35 542.04 542.3 541.3 C546.79 540.63 550.56 539.51 555 538.3 C560 536.94 565.68 534.56 570.8 533.4 C575.49 532.34 580.31 531.29 584.5 531.4 C588.08 531.5 591.09 533.07 594.4 533.4 C597.66 533.73 600.4 533.87 604.2 533.4 C609.67 532.72 617.4 530.5 623.9 528.4 C630.54 526.25 637.16 523.78 643.6 520.6 C650.3 517.29 656.33 513.15 663.3 508.8 C671.39 503.76 680.57 497.6 689.2 492" fill="none" stroke="#d8473e" stroke-width="1.05" stroke-dasharray="1.8 2.6" stroke-linejoin="round" stroke-opacity="0.9"/>
<path d="M437.9 497.3 C441.83 497.83 445.74 497.56 449.7 498.9 C454.27 500.45 459.14 502.89 463.5 506.8 C469.17 511.88 474.39 521.87 479.3 528.5 C483.5 534.17 487 539.45 491.1 544.2 C494.89 548.58 498.63 553.45 502.9 556.1 C506.58 558.38 510.77 560 514.7 560 C518.63 560 522.57 558.52 526.5 556.1 C531.77 552.85 537.49 545.82 542.3 540.3 C546.97 534.94 550.81 528.88 555 523.5 C558.97 518.41 562.49 513.26 566.8 508.8 C571.04 504.41 575.99 499.97 580.6 496.9 C584.52 494.29 588.47 492.97 592.4 491" fill="none" stroke="#2c2c2c" stroke-width="1.05" stroke-dasharray="2 2.4" stroke-linejoin="round" stroke-opacity="0.9"/>
<ellipse cx="455.6" cy="494.5" rx="5.9" ry="22.2" fill="none" stroke="#333" stroke-width="1.1"/>
<line x1="451.7" y1="474.9" x2="441.65" y2="474.9" stroke="#222" stroke-width="1.2"/>
<path d="M437.8 474.9 L443.3 472.6 L443.3 477.2 Z" fill="#222"/>
<ellipse cx="597" cy="573.3" rx="8.6" ry="19.2" fill="none" stroke="#333" stroke-width="1.1"/>
<line x1="602" y1="556.9" x2="616.65" y2="556.9" stroke="#222" stroke-width="1.2"/>
<path d="M620.5 556.9 L615 554.6 L615 559.2 Z" fill="#222"/>
<rect x="437.8" y="364" width="251.4" height="251.4" fill="none" stroke="#3c3c3c" stroke-width="1.3"/>
<line x1="433.6" y1="379.1" x2="437.8" y2="379.1" stroke="#3c3c3c" stroke-width="1.2"/>
<text x="430.5" y="382" font-size="12.6" fill="#2a2a2a" text-anchor="end" textLength="24.5" lengthAdjust="spacingAndGlyphs" stroke="#2a2a2a" stroke-width="0.55">0.04</text>
<line x1="433.6" y1="438.2" x2="437.8" y2="438.2" stroke="#3c3c3c" stroke-width="1.2"/>
<text x="430.5" y="441.1" font-size="12.6" fill="#2a2a2a" text-anchor="end" textLength="24.5" lengthAdjust="spacingAndGlyphs" stroke="#2a2a2a" stroke-width="0.55">0.02</text>
<line x1="433.6" y1="497.3" x2="437.8" y2="497.3" stroke="#3c3c3c" stroke-width="1.2"/>
<text x="430.5" y="500.2" font-size="12.6" fill="#2a2a2a" text-anchor="end" textLength="24.5" lengthAdjust="spacingAndGlyphs" stroke="#2a2a2a" stroke-width="0.55">0.00</text>
<line x1="433.6" y1="556.4" x2="437.8" y2="556.4" stroke="#3c3c3c" stroke-width="1.2"/>
<text x="430.5" y="559.3" font-size="12.6" fill="#2a2a2a" text-anchor="end" textLength="27" lengthAdjust="spacingAndGlyphs" stroke="#2a2a2a" stroke-width="0.55">-0.02</text>
<line x1="433.6" y1="615.5" x2="437.8" y2="615.5" stroke="#3c3c3c" stroke-width="1.2"/>
<text x="430.5" y="618.4" font-size="12.6" fill="#2a2a2a" text-anchor="end" textLength="27" lengthAdjust="spacingAndGlyphs" stroke="#2a2a2a" stroke-width="0.55">-0.04</text>
<line x1="435.3" y1="408.65" x2="437.8" y2="408.65" stroke="#3c3c3c" stroke-width="1.2"/>
<line x1="435.3" y1="467.75" x2="437.8" y2="467.75" stroke="#3c3c3c" stroke-width="1.2"/>
<line x1="435.3" y1="526.85" x2="437.8" y2="526.85" stroke="#3c3c3c" stroke-width="1.2"/>
<line x1="435.3" y1="585.95" x2="437.8" y2="585.95" stroke="#3c3c3c" stroke-width="1.2"/>
<line x1="447.47" y1="615.4" x2="447.47" y2="619.4" stroke="#3c3c3c" stroke-width="1.2"/>
<text x="447.47" y="632" font-size="12" fill="#2a2a2a" text-anchor="middle" stroke="#2a2a2a" stroke-width="0.55">450</text>
<line x1="495.81" y1="615.4" x2="495.81" y2="619.4" stroke="#3c3c3c" stroke-width="1.2"/>
<text x="495.81" y="632" font-size="12" fill="#2a2a2a" text-anchor="middle" stroke="#2a2a2a" stroke-width="0.55">500</text>
<line x1="544.16" y1="615.4" x2="544.16" y2="619.4" stroke="#3c3c3c" stroke-width="1.2"/>
<text x="544.16" y="632" font-size="12" fill="#2a2a2a" text-anchor="middle" stroke="#2a2a2a" stroke-width="0.55">550</text>
<line x1="592.5" y1="615.4" x2="592.5" y2="619.4" stroke="#3c3c3c" stroke-width="1.2"/>
<text x="592.5" y="632" font-size="12" fill="#2a2a2a" text-anchor="middle" stroke="#2a2a2a" stroke-width="0.55">600</text>
<line x1="640.85" y1="615.4" x2="640.85" y2="619.4" stroke="#3c3c3c" stroke-width="1.2"/>
<text x="640.85" y="632" font-size="12" fill="#2a2a2a" text-anchor="middle" stroke="#2a2a2a" stroke-width="0.55">650</text>
<line x1="689.19" y1="615.4" x2="689.19" y2="619.4" stroke="#3c3c3c" stroke-width="1.2"/>
<text x="689.19" y="632" font-size="12" fill="#2a2a2a" text-anchor="middle" stroke="#2a2a2a" stroke-width="0.55">700</text>
<line x1="471.64" y1="615.4" x2="471.64" y2="617.9" stroke="#3c3c3c" stroke-width="1.2"/>
<line x1="519.99" y1="615.4" x2="519.99" y2="617.9" stroke="#3c3c3c" stroke-width="1.2"/>
<line x1="568.33" y1="615.4" x2="568.33" y2="617.9" stroke="#3c3c3c" stroke-width="1.2"/>
<line x1="616.68" y1="615.4" x2="616.68" y2="617.9" stroke="#3c3c3c" stroke-width="1.2"/>
<line x1="665.02" y1="615.4" x2="665.02" y2="617.9" stroke="#3c3c3c" stroke-width="1.2"/>
<line x1="686.2" y1="590.26" x2="689.2" y2="590.26" stroke="#3c3c3c" stroke-width="1.2"/>
<line x1="685.2" y1="565.12" x2="689.2" y2="565.12" stroke="#3c3c3c" stroke-width="1.2"/>
<line x1="686.2" y1="539.98" x2="689.2" y2="539.98" stroke="#3c3c3c" stroke-width="1.2"/>
<line x1="685.2" y1="514.84" x2="689.2" y2="514.84" stroke="#3c3c3c" stroke-width="1.2"/>
<line x1="686.2" y1="489.7" x2="689.2" y2="489.7" stroke="#3c3c3c" stroke-width="1.2"/>
<line x1="685.2" y1="464.56" x2="689.2" y2="464.56" stroke="#3c3c3c" stroke-width="1.2"/>
<line x1="686.2" y1="439.42" x2="689.2" y2="439.42" stroke="#3c3c3c" stroke-width="1.2"/>
<line x1="685.2" y1="414.28" x2="689.2" y2="414.28" stroke="#3c3c3c" stroke-width="1.2"/>
<line x1="686.2" y1="389.14" x2="689.2" y2="389.14" stroke="#3c3c3c" stroke-width="1.2"/>
<text x="693.2" y="618.9" font-size="12" fill="#2a2a2a" stroke="#2a2a2a" stroke-width="0.55">0</text>
<text x="693.2" y="568.62" font-size="12" fill="#2a2a2a" stroke="#2a2a2a" stroke-width="0.55">1</text>
<text x="693.2" y="518.34" font-size="12" fill="#2a2a2a" stroke="#2a2a2a" stroke-width="0.55">2</text>
<text x="693.2" y="468.06" font-size="12" fill="#2a2a2a" stroke="#2a2a2a" stroke-width="0.55">3</text>
<text x="693.2" y="417.78" font-size="12" fill="#2a2a2a" stroke="#2a2a2a" stroke-width="0.55">4</text>
<text x="693.2" y="367.5" font-size="12" fill="#2a2a2a" stroke="#2a2a2a" stroke-width="0.55">5</text>
<text x="395.9" y="566.8" font-size="16" fill="#111" font-weight="bold" textLength="102.8" lengthAdjust="spacingAndGlyphs" transform="rotate(-90 395.9 566.8)" stroke="#111" stroke-width="0.65">CPL intensity</text>
<text x="396.2" y="459" font-size="12.8" fill="#111" font-family="Liberation Serif" textLength="25.6" lengthAdjust="spacingAndGlyphs" transform="rotate(-90 396.2 459)" stroke="#111" stroke-width="0.45">(Δ I)</text>
<text x="719.5" y="546.4" font-size="16" fill="#111" font-weight="bold" textLength="88.7" lengthAdjust="spacingAndGlyphs" transform="rotate(-90 719.5 546.4)" stroke="#111" stroke-width="0.65">PL intensity</text>
<text x="562" y="656.2" font-size="15.5" fill="#111" text-anchor="middle" font-weight="bold" textLength="122.3" lengthAdjust="spacingAndGlyphs" stroke="#111" stroke-width="0.65">Wavelength (nm)</text>
<text x="635.3" y="376.3" font-size="12.3" fill="#2a2a2a" textLength="48.3" lengthAdjust="spacingAndGlyphs" stroke="#2a2a2a" stroke-width="0.55">Neat Film</text>
<g opacity="0.68">
<line x1="440" y1="376.6" x2="462.9" y2="376.6" stroke="#2c2c2c" stroke-width="1.6"/>
</g>
<text x="466.9" y="379.8" font-size="12" fill="#2a2a2a" stroke="#2a2a2a" stroke-width="0.42" textLength="48.4" lengthAdjust="spacingAndGlyphs"><tspan font-style="italic">S</tspan>-BN-CF</text>
<g opacity="0.68">
<line x1="440" y1="392.2" x2="462.9" y2="392.2" stroke="#2c2c2c" stroke-width="1.6" stroke-dasharray="2 2.4"/>
</g>
<text x="466.9" y="395.4" font-size="12" fill="#2a2a2a" stroke="#2a2a2a" stroke-width="0.42" textLength="48.4" lengthAdjust="spacingAndGlyphs"><tspan font-style="italic">R</tspan>-BN-CF</text>
<g opacity="0.68">
<line x1="440" y1="407.8" x2="462.9" y2="407.8" stroke="#3f51b3" stroke-width="1.6"/>
</g>
<text x="466.9" y="411" font-size="12" fill="#2a2a2a" stroke="#2a2a2a" stroke-width="0.42" textLength="57.8" lengthAdjust="spacingAndGlyphs"><tspan font-style="italic">S</tspan>-BN-DBC</text>
<g opacity="0.68">
<line x1="440" y1="423.4" x2="462.9" y2="423.4" stroke="#3f51b3" stroke-width="1.6" stroke-dasharray="2 2.4"/>
</g>
<text x="466.9" y="426.6" font-size="12" fill="#2a2a2a" stroke="#2a2a2a" stroke-width="0.42" textLength="57.8" lengthAdjust="spacingAndGlyphs"><tspan font-style="italic">R</tspan>-BN-DBC</text>
<g opacity="0.68">
<line x1="531.4" y1="376.6" x2="554.3" y2="376.6" stroke="#d8473e" stroke-width="1.6"/>
</g>
<text x="558.6" y="379.8" font-size="12" fill="#2a2a2a" stroke="#2a2a2a" stroke-width="0.42" textLength="57.8" lengthAdjust="spacingAndGlyphs"><tspan font-style="italic">S</tspan>-BN-CCB</text>
<g opacity="0.68">
<line x1="531.4" y1="392.2" x2="554.3" y2="392.2" stroke="#d8473e" stroke-width="1.6" stroke-dasharray="1.8 2.6"/>
</g>
<text x="558.6" y="395.4" font-size="12" fill="#2a2a2a" stroke="#2a2a2a" stroke-width="0.42" textLength="58.4" lengthAdjust="spacingAndGlyphs"><tspan font-style="italic">R</tspan>-BN-CCB</text>
<g opacity="0.68">
<line x1="531.4" y1="407.8" x2="554.3" y2="407.8" stroke="#8a8a3c" stroke-width="1.6"/>
</g>
<text x="558.6" y="411" font-size="12" fill="#2a2a2a" stroke="#2a2a2a" stroke-width="0.42" textLength="46.3" lengthAdjust="spacingAndGlyphs"><tspan font-style="italic">S</tspan>-BN-AF</text>
<g opacity="0.68">
<line x1="531.4" y1="423.4" x2="554.3" y2="423.4" stroke="#8a8a3c" stroke-width="1.6" stroke-dasharray="2 2.4"/>
</g>
<text x="558.6" y="426.6" font-size="12" fill="#2a2a2a" stroke="#2a2a2a" stroke-width="0.42" textLength="46.8" lengthAdjust="spacingAndGlyphs"><tspan font-style="italic">R</tspan>-BN-AF</text>
</svg></body></html>
